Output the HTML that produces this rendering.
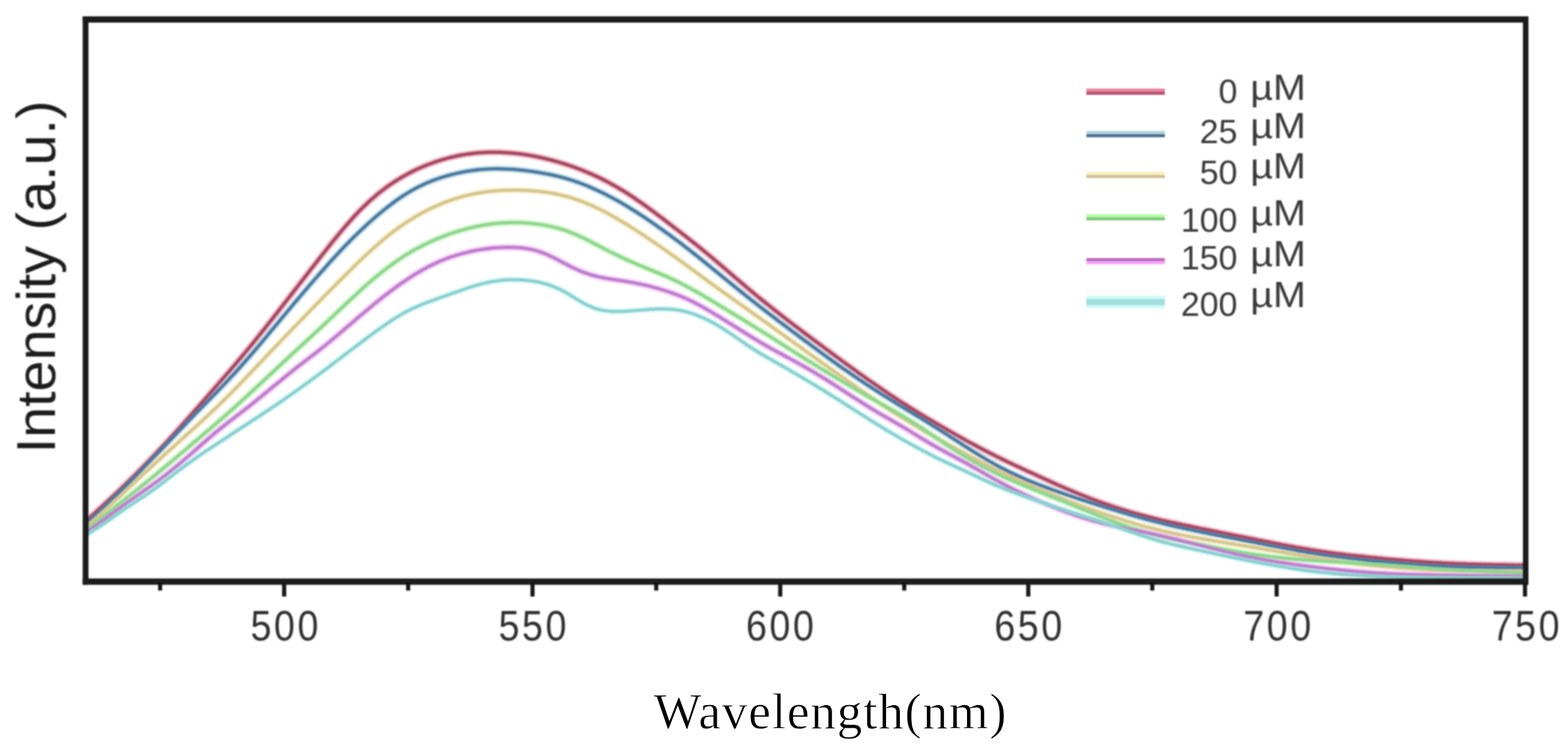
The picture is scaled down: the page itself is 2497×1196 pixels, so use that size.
<!DOCTYPE html>
<html><head><meta charset="utf-8">
<style>
html,body{margin:0;padding:0;background:#fff;}
body{width:2497px;height:1196px;overflow:hidden;}
svg{display:block;}
.tk{font-family:"Liberation Sans",sans-serif;font-size:68px;fill:#333;}
.lg{font-family:"Liberation Sans",sans-serif;font-size:54px;fill:#3a3a3a;}
.lg2{font-family:"Liberation Sans",sans-serif;font-size:57px;fill:#3a3a3a;}
.yl{font-family:"Liberation Sans",sans-serif;font-size:88px;fill:#1e1e1e;}
.xl{font-family:"Liberation Serif",serif;font-size:80.5px;fill:#000;stroke:#fff;stroke-width:0.9px;}
</style></head>
<body>
<svg width="2497" height="1196" viewBox="0 0 2497 1196">
<defs>
<filter id="bl" x="-5%" y="-5%" width="110%" height="110%"><feGaussianBlur stdDeviation="1.3"/></filter>
<filter id="bl2" x="-5%" y="-5%" width="110%" height="110%"><feGaussianBlur stdDeviation="0.9"/></filter>
<clipPath id="pc"><rect x="136" y="31" width="2294" height="896"/></clipPath>
</defs>
<rect width="2497" height="1196" fill="#fff"/>
<g fill="none" stroke-linejoin="round" stroke-linecap="round" clip-path="url(#pc)" filter="url(#bl)">
<path d="M136.0 830.4 L140.0 826.8 L144.0 823.2 L148.0 819.6 L152.0 816.0 L156.0 812.3 L160.0 808.7 L164.0 805.1 L168.0 801.4 L172.0 797.7 L176.0 794.0 L180.0 790.2 L184.0 786.5 L188.0 782.7 L192.0 778.9 L196.0 775.0 L200.0 771.1 L204.0 767.2 L208.0 763.3 L212.0 759.3 L216.0 755.4 L220.0 751.3 L224.0 747.3 L228.0 743.2 L232.0 739.1 L236.0 735.0 L240.0 730.9 L244.0 726.7 L248.0 722.5 L252.0 718.2 L256.0 714.0 L260.0 709.7 L264.0 705.4 L268.0 701.1 L272.0 696.7 L276.0 692.3 L280.0 687.9 L284.0 683.5 L288.0 679.1 L292.0 674.6 L296.0 670.1 L300.0 665.6 L304.0 661.1 L308.0 656.6 L312.0 652.0 L316.0 647.5 L320.0 642.9 L324.0 638.4 L328.0 633.8 L332.0 629.3 L336.0 624.7 L340.0 620.1 L344.0 615.6 L348.0 611.0 L352.0 606.4 L356.0 601.8 L360.0 597.2 L364.0 592.6 L368.0 587.9 L372.0 583.3 L376.0 578.6 L380.0 573.9 L384.0 569.1 L388.0 564.3 L392.0 559.5 L396.0 554.7 L400.0 549.8 L404.0 544.9 L408.0 540.0 L412.0 535.0 L416.0 530.0 L420.0 525.0 L424.0 520.0 L428.0 514.9 L432.0 509.8 L436.0 504.7 L440.0 499.6 L444.0 494.5 L448.0 489.4 L452.0 484.3 L456.0 479.1 L460.0 474.0 L464.0 468.8 L468.0 463.7 L472.0 458.6 L476.0 453.4 L480.0 448.3 L484.0 443.2 L488.0 438.0 L492.0 432.9 L496.0 427.7 L500.0 422.6 L504.0 417.5 L508.0 412.3 L512.0 407.2 L516.0 402.1 L520.0 397.1 L524.0 392.0 L528.0 387.0 L532.0 382.1 L536.0 377.2 L540.0 372.3 L544.0 367.5 L548.0 362.8 L552.0 358.2 L556.0 353.6 L560.0 349.1 L564.0 344.7 L568.0 340.4 L572.0 336.2 L576.0 332.2 L580.0 328.2 L584.0 324.4 L588.0 320.6 L592.0 317.0 L596.0 313.6 L600.0 310.2 L604.0 306.9 L608.0 303.8 L612.0 300.8 L616.0 297.8 L620.0 295.0 L624.0 292.2 L628.0 289.6 L632.0 287.0 L636.0 284.5 L640.0 282.2 L644.0 279.9 L648.0 277.6 L652.0 275.5 L656.0 273.5 L660.0 271.5 L664.0 269.6 L668.0 267.8 L672.0 266.0 L676.0 264.4 L680.0 262.7 L684.0 261.2 L688.0 259.7 L692.0 258.3 L696.0 256.9 L700.0 255.7 L704.0 254.4 L708.0 253.3 L712.0 252.1 L716.0 251.1 L720.0 250.1 L724.0 249.2 L728.0 248.3 L732.0 247.5 L736.0 246.7 L740.0 246.1 L744.0 245.4 L748.0 244.9 L752.0 244.4 L756.0 243.9 L760.0 243.6 L764.0 243.2 L768.0 243.0 L772.0 242.8 L776.0 242.6 L780.0 242.5 L784.0 242.5 L788.0 242.5 L792.0 242.5 L796.0 242.6 L800.0 242.7 L804.0 242.9 L808.0 243.2 L812.0 243.5 L816.0 243.8 L820.0 244.2 L824.0 244.6 L828.0 245.1 L832.0 245.6 L836.0 246.2 L840.0 246.8 L844.0 247.5 L848.0 248.2 L852.0 249.0 L856.0 249.8 L860.0 250.7 L864.0 251.5 L868.0 252.5 L872.0 253.5 L876.0 254.5 L880.0 255.5 L884.0 256.6 L888.0 257.7 L892.0 258.9 L896.0 260.1 L900.0 261.4 L904.0 262.7 L908.0 264.0 L912.0 265.4 L916.0 266.8 L920.0 268.3 L924.0 269.8 L928.0 271.4 L932.0 273.0 L936.0 274.7 L940.0 276.4 L944.0 278.1 L948.0 280.0 L952.0 281.8 L956.0 283.8 L960.0 285.8 L964.0 287.8 L968.0 289.9 L972.0 292.1 L976.0 294.3 L980.0 296.5 L984.0 298.9 L988.0 301.3 L992.0 303.7 L996.0 306.2 L1000.0 308.7 L1004.0 311.3 L1008.0 313.9 L1012.0 316.6 L1016.0 319.4 L1020.0 322.1 L1024.0 325.0 L1028.0 327.8 L1032.0 330.7 L1036.0 333.7 L1040.0 336.6 L1044.0 339.6 L1048.0 342.6 L1052.0 345.6 L1056.0 348.7 L1060.0 351.7 L1064.0 354.8 L1068.0 357.9 L1072.0 361.0 L1076.0 364.1 L1080.0 367.1 L1084.0 370.3 L1088.0 373.4 L1092.0 376.5 L1096.0 379.7 L1100.0 382.8 L1104.0 386.0 L1108.0 389.2 L1112.0 392.4 L1116.0 395.7 L1120.0 398.9 L1124.0 402.2 L1128.0 405.5 L1132.0 408.9 L1136.0 412.2 L1140.0 415.6 L1144.0 419.0 L1148.0 422.4 L1152.0 425.8 L1156.0 429.3 L1160.0 432.7 L1164.0 436.1 L1168.0 439.6 L1172.0 443.0 L1176.0 446.4 L1180.0 449.8 L1184.0 453.2 L1188.0 456.6 L1192.0 460.0 L1196.0 463.3 L1200.0 466.7 L1204.0 470.0 L1208.0 473.3 L1212.0 476.5 L1216.0 479.8 L1220.0 483.0 L1224.0 486.2 L1228.0 489.4 L1232.0 492.6 L1236.0 495.7 L1240.0 498.9 L1244.0 502.0 L1248.0 505.1 L1252.0 508.2 L1256.0 511.3 L1260.0 514.3 L1264.0 517.4 L1268.0 520.4 L1272.0 523.4 L1276.0 526.5 L1280.0 529.5 L1284.0 532.5 L1288.0 535.5 L1292.0 538.5 L1296.0 541.5 L1300.0 544.5 L1304.0 547.4 L1308.0 550.4 L1312.0 553.4 L1316.0 556.4 L1320.0 559.3 L1324.0 562.3 L1328.0 565.2 L1332.0 568.2 L1336.0 571.1 L1340.0 574.1 L1344.0 577.0 L1348.0 579.9 L1352.0 582.8 L1356.0 585.7 L1360.0 588.6 L1364.0 591.5 L1368.0 594.4 L1372.0 597.2 L1376.0 600.1 L1380.0 602.9 L1384.0 605.7 L1388.0 608.5 L1392.0 611.3 L1396.0 614.1 L1400.0 616.8 L1404.0 619.6 L1408.0 622.3 L1412.0 625.0 L1416.0 627.7 L1420.0 630.3 L1424.0 633.0 L1428.0 635.6 L1432.0 638.2 L1436.0 640.8 L1440.0 643.4 L1444.0 645.9 L1448.0 648.4 L1452.0 650.9 L1456.0 653.4 L1460.0 655.8 L1464.0 658.3 L1468.0 660.7 L1472.0 663.1 L1476.0 665.5 L1480.0 667.9 L1484.0 670.2 L1488.0 672.6 L1492.0 675.0 L1496.0 677.3 L1500.0 679.6 L1504.0 681.9 L1508.0 684.3 L1512.0 686.6 L1516.0 688.8 L1520.0 691.1 L1524.0 693.4 L1528.0 695.6 L1532.0 697.9 L1536.0 700.1 L1540.0 702.3 L1544.0 704.4 L1548.0 706.6 L1552.0 708.7 L1556.0 710.9 L1560.0 713.0 L1564.0 715.1 L1568.0 717.2 L1572.0 719.2 L1576.0 721.3 L1580.0 723.3 L1584.0 725.4 L1588.0 727.4 L1592.0 729.3 L1596.0 731.3 L1600.0 733.3 L1604.0 735.2 L1608.0 737.1 L1612.0 739.0 L1616.0 740.9 L1620.0 742.8 L1624.0 744.6 L1628.0 746.5 L1632.0 748.3 L1636.0 750.2 L1640.0 752.0 L1644.0 753.8 L1648.0 755.6 L1652.0 757.4 L1656.0 759.3 L1660.0 761.1 L1664.0 762.9 L1668.0 764.7 L1672.0 766.6 L1676.0 768.4 L1680.0 770.2 L1684.0 772.0 L1688.0 773.7 L1692.0 775.5 L1696.0 777.3 L1700.0 779.0 L1704.0 780.7 L1708.0 782.4 L1712.0 784.1 L1716.0 785.7 L1720.0 787.4 L1724.0 789.0 L1728.0 790.6 L1732.0 792.1 L1736.0 793.7 L1740.0 795.2 L1744.0 796.7 L1748.0 798.1 L1752.0 799.6 L1756.0 801.0 L1760.0 802.4 L1764.0 803.8 L1768.0 805.2 L1772.0 806.5 L1776.0 807.8 L1780.0 809.1 L1784.0 810.4 L1788.0 811.6 L1792.0 812.9 L1796.0 814.1 L1800.0 815.3 L1804.0 816.4 L1808.0 817.6 L1812.0 818.7 L1816.0 819.8 L1820.0 820.9 L1824.0 822.0 L1828.0 823.0 L1832.0 824.0 L1836.0 825.0 L1840.0 826.0 L1844.0 827.0 L1848.0 828.0 L1852.0 828.9 L1856.0 829.8 L1860.0 830.7 L1864.0 831.6 L1868.0 832.5 L1872.0 833.3 L1876.0 834.2 L1880.0 835.0 L1884.0 835.9 L1888.0 836.7 L1892.0 837.5 L1896.0 838.3 L1900.0 839.1 L1904.0 840.0 L1908.0 840.8 L1912.0 841.6 L1916.0 842.4 L1920.0 843.2 L1924.0 844.0 L1928.0 844.8 L1932.0 845.6 L1936.0 846.4 L1940.0 847.3 L1944.0 848.1 L1948.0 848.9 L1952.0 849.7 L1956.0 850.5 L1960.0 851.3 L1964.0 852.1 L1968.0 852.9 L1972.0 853.7 L1976.0 854.5 L1980.0 855.3 L1984.0 856.1 L1988.0 856.9 L1992.0 857.7 L1996.0 858.5 L2000.0 859.3 L2004.0 860.1 L2008.0 860.9 L2012.0 861.7 L2016.0 862.4 L2020.0 863.2 L2024.0 864.0 L2028.0 864.8 L2032.0 865.6 L2036.0 866.3 L2040.0 867.1 L2044.0 867.9 L2048.0 868.6 L2052.0 869.4 L2056.0 870.1 L2060.0 870.8 L2064.0 871.6 L2068.0 872.3 L2072.0 873.0 L2076.0 873.7 L2080.0 874.3 L2084.0 875.0 L2088.0 875.7 L2092.0 876.3 L2096.0 876.9 L2100.0 877.5 L2104.0 878.1 L2108.0 878.7 L2112.0 879.3 L2116.0 879.9 L2120.0 880.4 L2124.0 880.9 L2128.0 881.5 L2132.0 882.0 L2136.0 882.5 L2140.0 883.0 L2144.0 883.5 L2148.0 883.9 L2152.0 884.4 L2156.0 884.8 L2160.0 885.3 L2164.0 885.7 L2168.0 886.1 L2172.0 886.5 L2176.0 887.0 L2180.0 887.4 L2184.0 887.8 L2188.0 888.1 L2192.0 888.5 L2196.0 888.9 L2200.0 889.3 L2204.0 889.7 L2208.0 890.0 L2212.0 890.4 L2216.0 890.7 L2220.0 891.1 L2224.0 891.4 L2228.0 891.8 L2232.0 892.1 L2236.0 892.5 L2240.0 892.8 L2244.0 893.1 L2248.0 893.4 L2252.0 893.7 L2256.0 894.0 L2260.0 894.3 L2264.0 894.6 L2268.0 894.9 L2272.0 895.1 L2276.0 895.4 L2280.0 895.6 L2284.0 895.9 L2288.0 896.1 L2292.0 896.3 L2296.0 896.6 L2300.0 896.8 L2304.0 897.0 L2308.0 897.2 L2312.0 897.3 L2316.0 897.5 L2320.0 897.7 L2324.0 897.8 L2328.0 898.0 L2332.0 898.1 L2336.0 898.3 L2340.0 898.4 L2344.0 898.5 L2348.0 898.6 L2352.0 898.7 L2356.0 898.8 L2360.0 898.9 L2364.0 899.0 L2368.0 899.1 L2372.0 899.2 L2376.0 899.3 L2380.0 899.4 L2384.0 899.4 L2388.0 899.5 L2392.0 899.6 L2396.0 899.6 L2400.0 899.7 L2404.0 899.8 L2408.0 899.8 L2412.0 899.9 L2416.0 899.9 L2420.0 900.0 L2424.0 900.0 L2428.0 900.1 L2432.0 900.1" stroke="#e890a8" stroke-width="11" opacity="0.55"/>
<path d="M136.0 834.8 L140.0 831.1 L144.0 827.5 L148.0 823.8 L152.0 820.1 L156.0 816.4 L160.0 812.7 L164.0 808.9 L168.0 805.2 L172.0 801.4 L176.0 797.6 L180.0 793.8 L184.0 789.9 L188.0 786.1 L192.0 782.2 L196.0 778.2 L200.0 774.3 L204.0 770.3 L208.0 766.3 L212.0 762.3 L216.0 758.2 L220.0 754.1 L224.0 750.0 L228.0 745.9 L232.0 741.7 L236.0 737.5 L240.0 733.4 L244.0 729.2 L248.0 725.0 L252.0 720.8 L256.0 716.6 L260.0 712.4 L264.0 708.2 L268.0 704.0 L272.0 699.8 L276.0 695.6 L280.0 691.4 L284.0 687.2 L288.0 683.1 L292.0 678.9 L296.0 674.7 L300.0 670.6 L304.0 666.5 L308.0 662.3 L312.0 658.2 L316.0 654.1 L320.0 650.1 L324.0 646.0 L328.0 641.9 L332.0 637.9 L336.0 633.8 L340.0 629.7 L344.0 625.6 L348.0 621.5 L352.0 617.3 L356.0 613.2 L360.0 608.9 L364.0 604.7 L368.0 600.4 L372.0 596.1 L376.0 591.8 L380.0 587.4 L384.0 582.9 L388.0 578.4 L392.0 573.9 L396.0 569.3 L400.0 564.7 L404.0 560.1 L408.0 555.4 L412.0 550.7 L416.0 545.9 L420.0 541.2 L424.0 536.4 L428.0 531.6 L432.0 526.8 L436.0 522.0 L440.0 517.2 L444.0 512.4 L448.0 507.6 L452.0 502.8 L456.0 498.0 L460.0 493.2 L464.0 488.4 L468.0 483.6 L472.0 478.9 L476.0 474.2 L480.0 469.5 L484.0 464.8 L488.0 460.1 L492.0 455.5 L496.0 450.9 L500.0 446.3 L504.0 441.7 L508.0 437.1 L512.0 432.6 L516.0 428.1 L520.0 423.6 L524.0 419.1 L528.0 414.7 L532.0 410.3 L536.0 406.0 L540.0 401.7 L544.0 397.4 L548.0 393.2 L552.0 389.1 L556.0 385.0 L560.0 380.9 L564.0 377.0 L568.0 373.1 L572.0 369.2 L576.0 365.4 L580.0 361.7 L584.0 358.0 L588.0 354.3 L592.0 350.8 L596.0 347.3 L600.0 343.8 L604.0 340.4 L608.0 337.1 L612.0 333.8 L616.0 330.6 L620.0 327.5 L624.0 324.5 L628.0 321.5 L632.0 318.6 L636.0 315.8 L640.0 313.1 L644.0 310.5 L648.0 308.0 L652.0 305.5 L656.0 303.2 L660.0 301.0 L664.0 298.9 L668.0 296.8 L672.0 294.9 L676.0 293.0 L680.0 291.3 L684.0 289.6 L688.0 288.0 L692.0 286.5 L696.0 285.0 L700.0 283.7 L704.0 282.4 L708.0 281.1 L712.0 280.0 L716.0 278.9 L720.0 277.8 L724.0 276.8 L728.0 275.9 L732.0 275.0 L736.0 274.2 L740.0 273.4 L744.0 272.7 L748.0 272.1 L752.0 271.5 L756.0 271.0 L760.0 270.5 L764.0 270.1 L768.0 269.7 L772.0 269.4 L776.0 269.2 L780.0 269.0 L784.0 268.9 L788.0 268.8 L792.0 268.8 L796.0 268.8 L800.0 268.9 L804.0 269.0 L808.0 269.2 L812.0 269.4 L816.0 269.6 L820.0 269.9 L824.0 270.3 L828.0 270.7 L832.0 271.1 L836.0 271.5 L840.0 272.0 L844.0 272.6 L848.0 273.1 L852.0 273.7 L856.0 274.3 L860.0 275.0 L864.0 275.7 L868.0 276.4 L872.0 277.2 L876.0 278.0 L880.0 278.8 L884.0 279.7 L888.0 280.7 L892.0 281.7 L896.0 282.7 L900.0 283.8 L904.0 285.0 L908.0 286.2 L912.0 287.5 L916.0 288.8 L920.0 290.2 L924.0 291.7 L928.0 293.2 L932.0 294.8 L936.0 296.4 L940.0 298.1 L944.0 299.9 L948.0 301.7 L952.0 303.5 L956.0 305.4 L960.0 307.3 L964.0 309.3 L968.0 311.4 L972.0 313.5 L976.0 315.6 L980.0 317.8 L984.0 320.0 L988.0 322.2 L992.0 324.6 L996.0 326.9 L1000.0 329.3 L1004.0 331.8 L1008.0 334.3 L1012.0 336.8 L1016.0 339.4 L1020.0 342.0 L1024.0 344.6 L1028.0 347.3 L1032.0 350.0 L1036.0 352.8 L1040.0 355.6 L1044.0 358.3 L1048.0 361.2 L1052.0 364.0 L1056.0 366.8 L1060.0 369.7 L1064.0 372.6 L1068.0 375.5 L1072.0 378.4 L1076.0 381.4 L1080.0 384.4 L1084.0 387.4 L1088.0 390.5 L1092.0 393.6 L1096.0 396.7 L1100.0 399.8 L1104.0 403.0 L1108.0 406.1 L1112.0 409.3 L1116.0 412.5 L1120.0 415.8 L1124.0 419.0 L1128.0 422.2 L1132.0 425.5 L1136.0 428.8 L1140.0 432.0 L1144.0 435.3 L1148.0 438.6 L1152.0 441.8 L1156.0 445.1 L1160.0 448.3 L1164.0 451.6 L1168.0 454.9 L1172.0 458.1 L1176.0 461.3 L1180.0 464.5 L1184.0 467.7 L1188.0 470.9 L1192.0 474.1 L1196.0 477.3 L1200.0 480.4 L1204.0 483.6 L1208.0 486.7 L1212.0 489.8 L1216.0 492.9 L1220.0 496.0 L1224.0 499.1 L1228.0 502.1 L1232.0 505.2 L1236.0 508.2 L1240.0 511.3 L1244.0 514.3 L1248.0 517.3 L1252.0 520.3 L1256.0 523.3 L1260.0 526.3 L1264.0 529.3 L1268.0 532.3 L1272.0 535.3 L1276.0 538.2 L1280.0 541.2 L1284.0 544.2 L1288.0 547.1 L1292.0 550.1 L1296.0 553.1 L1300.0 556.0 L1304.0 559.0 L1308.0 561.9 L1312.0 564.9 L1316.0 567.8 L1320.0 570.7 L1324.0 573.6 L1328.0 576.5 L1332.0 579.3 L1336.0 582.2 L1340.0 585.0 L1344.0 587.8 L1348.0 590.6 L1352.0 593.3 L1356.0 596.1 L1360.0 598.8 L1364.0 601.5 L1368.0 604.2 L1372.0 606.9 L1376.0 609.5 L1380.0 612.2 L1384.0 614.8 L1388.0 617.4 L1392.0 620.0 L1396.0 622.6 L1400.0 625.1 L1404.0 627.7 L1408.0 630.2 L1412.0 632.7 L1416.0 635.2 L1420.0 637.7 L1424.0 640.2 L1428.0 642.6 L1432.0 645.1 L1436.0 647.5 L1440.0 650.0 L1444.0 652.4 L1448.0 654.8 L1452.0 657.2 L1456.0 659.6 L1460.0 662.1 L1464.0 664.5 L1468.0 666.9 L1472.0 669.4 L1476.0 671.8 L1480.0 674.3 L1484.0 676.8 L1488.0 679.3 L1492.0 681.8 L1496.0 684.3 L1500.0 686.8 L1504.0 689.4 L1508.0 692.0 L1512.0 694.6 L1516.0 697.2 L1520.0 699.8 L1524.0 702.4 L1528.0 705.0 L1532.0 707.6 L1536.0 710.2 L1540.0 712.8 L1544.0 715.4 L1548.0 717.9 L1552.0 720.4 L1556.0 722.9 L1560.0 725.4 L1564.0 727.8 L1568.0 730.2 L1572.0 732.6 L1576.0 734.9 L1580.0 737.2 L1584.0 739.4 L1588.0 741.6 L1592.0 743.7 L1596.0 745.8 L1600.0 747.8 L1604.0 749.8 L1608.0 751.8 L1612.0 753.7 L1616.0 755.6 L1620.0 757.4 L1624.0 759.2 L1628.0 761.0 L1632.0 762.7 L1636.0 764.5 L1640.0 766.1 L1644.0 767.8 L1648.0 769.4 L1652.0 771.0 L1656.0 772.6 L1660.0 774.1 L1664.0 775.6 L1668.0 777.1 L1672.0 778.6 L1676.0 780.1 L1680.0 781.5 L1684.0 782.9 L1688.0 784.4 L1692.0 785.7 L1696.0 787.1 L1700.0 788.5 L1704.0 789.8 L1708.0 791.1 L1712.0 792.5 L1716.0 793.8 L1720.0 795.1 L1724.0 796.4 L1728.0 797.7 L1732.0 798.9 L1736.0 800.2 L1740.0 801.5 L1744.0 802.7 L1748.0 804.0 L1752.0 805.2 L1756.0 806.5 L1760.0 807.7 L1764.0 809.0 L1768.0 810.2 L1772.0 811.4 L1776.0 812.6 L1780.0 813.8 L1784.0 815.0 L1788.0 816.2 L1792.0 817.4 L1796.0 818.6 L1800.0 819.8 L1804.0 820.9 L1808.0 822.1 L1812.0 823.2 L1816.0 824.3 L1820.0 825.4 L1824.0 826.5 L1828.0 827.6 L1832.0 828.6 L1836.0 829.7 L1840.0 830.7 L1844.0 831.7 L1848.0 832.7 L1852.0 833.7 L1856.0 834.7 L1860.0 835.6 L1864.0 836.6 L1868.0 837.5 L1872.0 838.4 L1876.0 839.3 L1880.0 840.1 L1884.0 841.0 L1888.0 841.9 L1892.0 842.7 L1896.0 843.6 L1900.0 844.4 L1904.0 845.2 L1908.0 846.1 L1912.0 846.9 L1916.0 847.7 L1920.0 848.5 L1924.0 849.3 L1928.0 850.2 L1932.0 851.0 L1936.0 851.8 L1940.0 852.6 L1944.0 853.4 L1948.0 854.2 L1952.0 855.0 L1956.0 855.7 L1960.0 856.5 L1964.0 857.3 L1968.0 858.1 L1972.0 858.9 L1976.0 859.7 L1980.0 860.5 L1984.0 861.2 L1988.0 862.0 L1992.0 862.8 L1996.0 863.6 L2000.0 864.4 L2004.0 865.2 L2008.0 865.9 L2012.0 866.7 L2016.0 867.5 L2020.0 868.3 L2024.0 869.1 L2028.0 869.8 L2032.0 870.6 L2036.0 871.4 L2040.0 872.1 L2044.0 872.9 L2048.0 873.6 L2052.0 874.4 L2056.0 875.1 L2060.0 875.8 L2064.0 876.5 L2068.0 877.3 L2072.0 878.0 L2076.0 878.6 L2080.0 879.3 L2084.0 880.0 L2088.0 880.6 L2092.0 881.3 L2096.0 881.9 L2100.0 882.5 L2104.0 883.1 L2108.0 883.7 L2112.0 884.3 L2116.0 884.9 L2120.0 885.4 L2124.0 885.9 L2128.0 886.5 L2132.0 887.0 L2136.0 887.5 L2140.0 888.0 L2144.0 888.4 L2148.0 888.9 L2152.0 889.4 L2156.0 889.8 L2160.0 890.3 L2164.0 890.7 L2168.0 891.1 L2172.0 891.6 L2176.0 892.0 L2180.0 892.4 L2184.0 892.8 L2188.0 893.2 L2192.0 893.5 L2196.0 893.9 L2200.0 894.3 L2204.0 894.7 L2208.0 895.1 L2212.0 895.4 L2216.0 895.8 L2220.0 896.1 L2224.0 896.5 L2228.0 896.8 L2232.0 897.2 L2236.0 897.5 L2240.0 897.8 L2244.0 898.1 L2248.0 898.4 L2252.0 898.8 L2256.0 899.0 L2260.0 899.3 L2264.0 899.6 L2268.0 899.9 L2272.0 900.1 L2276.0 900.4 L2280.0 900.6 L2284.0 900.9 L2288.0 901.1 L2292.0 901.3 L2296.0 901.5 L2300.0 901.7 L2304.0 901.9 L2308.0 902.1 L2312.0 902.3 L2316.0 902.4 L2320.0 902.6 L2324.0 902.7 L2328.0 902.8 L2332.0 902.9 L2336.0 903.1 L2340.0 903.2 L2344.0 903.3 L2348.0 903.3 L2352.0 903.4 L2356.0 903.5 L2360.0 903.6 L2364.0 903.6 L2368.0 903.7 L2372.0 903.7 L2376.0 903.8 L2380.0 903.8 L2384.0 903.9 L2388.0 903.9 L2392.0 903.9 L2396.0 904.0 L2400.0 904.0 L2404.0 904.0 L2408.0 904.1 L2412.0 904.1 L2416.0 904.1 L2420.0 904.1 L2424.0 904.1 L2428.0 904.1 L2432.0 904.2" stroke="#a8d0e0" stroke-width="11" opacity="0.55"/>
<path d="M136.0 840.2 L140.0 836.7 L144.0 833.1 L148.0 829.5 L152.0 825.9 L156.0 822.3 L160.0 818.7 L164.0 815.1 L168.0 811.4 L172.0 807.7 L176.0 804.1 L180.0 800.3 L184.0 796.6 L188.0 792.9 L192.0 789.2 L196.0 785.4 L200.0 781.6 L204.0 777.9 L208.0 774.1 L212.0 770.4 L216.0 766.6 L220.0 762.8 L224.0 759.1 L228.0 755.3 L232.0 751.6 L236.0 747.9 L240.0 744.2 L244.0 740.5 L248.0 736.9 L252.0 733.2 L256.0 729.6 L260.0 726.0 L264.0 722.4 L268.0 718.8 L272.0 715.2 L276.0 711.6 L280.0 708.0 L284.0 704.4 L288.0 700.8 L292.0 697.2 L296.0 693.6 L300.0 690.0 L304.0 686.4 L308.0 682.8 L312.0 679.2 L316.0 675.5 L320.0 671.9 L324.0 668.2 L328.0 664.5 L332.0 660.8 L336.0 657.0 L340.0 653.3 L344.0 649.5 L348.0 645.6 L352.0 641.8 L356.0 637.8 L360.0 633.9 L364.0 629.9 L368.0 625.9 L372.0 621.9 L376.0 617.8 L380.0 613.6 L384.0 609.5 L388.0 605.3 L392.0 601.1 L396.0 596.9 L400.0 592.7 L404.0 588.5 L408.0 584.3 L412.0 580.1 L416.0 575.8 L420.0 571.6 L424.0 567.4 L428.0 563.2 L432.0 559.0 L436.0 554.8 L440.0 550.6 L444.0 546.4 L448.0 542.2 L452.0 538.1 L456.0 533.9 L460.0 529.8 L464.0 525.6 L468.0 521.5 L472.0 517.3 L476.0 513.2 L480.0 509.1 L484.0 505.0 L488.0 500.8 L492.0 496.7 L496.0 492.6 L500.0 488.5 L504.0 484.4 L508.0 480.3 L512.0 476.3 L516.0 472.2 L520.0 468.1 L524.0 464.1 L528.0 460.1 L532.0 456.0 L536.0 452.0 L540.0 448.0 L544.0 444.0 L548.0 440.0 L552.0 436.0 L556.0 432.1 L560.0 428.1 L564.0 424.2 L568.0 420.3 L572.0 416.4 L576.0 412.6 L580.0 408.8 L584.0 405.1 L588.0 401.4 L592.0 397.7 L596.0 394.1 L600.0 390.5 L604.0 387.1 L608.0 383.6 L612.0 380.3 L616.0 377.0 L620.0 373.8 L624.0 370.7 L628.0 367.6 L632.0 364.7 L636.0 361.8 L640.0 359.0 L644.0 356.2 L648.0 353.6 L652.0 351.0 L656.0 348.5 L660.0 346.1 L664.0 343.7 L668.0 341.4 L672.0 339.2 L676.0 337.1 L680.0 335.0 L684.0 333.0 L688.0 331.1 L692.0 329.2 L696.0 327.4 L700.0 325.7 L704.0 324.0 L708.0 322.4 L712.0 320.9 L716.0 319.5 L720.0 318.1 L724.0 316.7 L728.0 315.5 L732.0 314.3 L736.0 313.1 L740.0 312.1 L744.0 311.1 L748.0 310.1 L752.0 309.3 L756.0 308.4 L760.0 307.7 L764.0 307.0 L768.0 306.4 L772.0 305.8 L776.0 305.3 L780.0 304.8 L784.0 304.4 L788.0 304.1 L792.0 303.7 L796.0 303.5 L800.0 303.3 L804.0 303.1 L808.0 303.0 L812.0 302.9 L816.0 302.8 L820.0 302.8 L824.0 302.8 L828.0 302.9 L832.0 303.0 L836.0 303.2 L840.0 303.4 L844.0 303.6 L848.0 303.9 L852.0 304.2 L856.0 304.6 L860.0 305.0 L864.0 305.5 L868.0 306.0 L872.0 306.6 L876.0 307.2 L880.0 307.9 L884.0 308.7 L888.0 309.5 L892.0 310.4 L896.0 311.3 L900.0 312.3 L904.0 313.4 L908.0 314.5 L912.0 315.8 L916.0 317.0 L920.0 318.4 L924.0 319.8 L928.0 321.4 L932.0 322.9 L936.0 324.6 L940.0 326.3 L944.0 328.1 L948.0 329.9 L952.0 331.8 L956.0 333.7 L960.0 335.8 L964.0 337.8 L968.0 340.0 L972.0 342.2 L976.0 344.4 L980.0 346.7 L984.0 349.0 L988.0 351.4 L992.0 353.8 L996.0 356.2 L1000.0 358.7 L1004.0 361.2 L1008.0 363.8 L1012.0 366.3 L1016.0 368.9 L1020.0 371.5 L1024.0 374.2 L1028.0 376.8 L1032.0 379.5 L1036.0 382.2 L1040.0 384.9 L1044.0 387.6 L1048.0 390.4 L1052.0 393.1 L1056.0 395.9 L1060.0 398.7 L1064.0 401.5 L1068.0 404.4 L1072.0 407.2 L1076.0 410.1 L1080.0 413.0 L1084.0 415.9 L1088.0 418.8 L1092.0 421.7 L1096.0 424.6 L1100.0 427.5 L1104.0 430.5 L1108.0 433.4 L1112.0 436.3 L1116.0 439.3 L1120.0 442.2 L1124.0 445.1 L1128.0 448.1 L1132.0 451.0 L1136.0 453.9 L1140.0 456.8 L1144.0 459.7 L1148.0 462.5 L1152.0 465.4 L1156.0 468.3 L1160.0 471.1 L1164.0 474.0 L1168.0 476.8 L1172.0 479.7 L1176.0 482.5 L1180.0 485.3 L1184.0 488.2 L1188.0 491.0 L1192.0 493.8 L1196.0 496.7 L1200.0 499.5 L1204.0 502.4 L1208.0 505.2 L1212.0 508.1 L1216.0 510.9 L1220.0 513.8 L1224.0 516.6 L1228.0 519.5 L1232.0 522.4 L1236.0 525.3 L1240.0 528.1 L1244.0 531.0 L1248.0 533.9 L1252.0 536.8 L1256.0 539.7 L1260.0 542.6 L1264.0 545.5 L1268.0 548.3 L1272.0 551.2 L1276.0 554.1 L1280.0 556.9 L1284.0 559.8 L1288.0 562.7 L1292.0 565.5 L1296.0 568.4 L1300.0 571.2 L1304.0 574.0 L1308.0 576.9 L1312.0 579.7 L1316.0 582.5 L1320.0 585.4 L1324.0 588.2 L1328.0 591.1 L1332.0 593.9 L1336.0 596.8 L1340.0 599.6 L1344.0 602.5 L1348.0 605.3 L1352.0 608.2 L1356.0 611.0 L1360.0 613.8 L1364.0 616.6 L1368.0 619.4 L1372.0 622.2 L1376.0 625.0 L1380.0 627.8 L1384.0 630.6 L1388.0 633.3 L1392.0 636.0 L1396.0 638.7 L1400.0 641.4 L1404.0 644.1 L1408.0 646.7 L1412.0 649.3 L1416.0 651.9 L1420.0 654.5 L1424.0 657.0 L1428.0 659.6 L1432.0 662.1 L1436.0 664.6 L1440.0 667.0 L1444.0 669.5 L1448.0 671.9 L1452.0 674.4 L1456.0 676.8 L1460.0 679.2 L1464.0 681.5 L1468.0 683.9 L1472.0 686.3 L1476.0 688.6 L1480.0 690.9 L1484.0 693.2 L1488.0 695.5 L1492.0 697.8 L1496.0 700.0 L1500.0 702.3 L1504.0 704.5 L1508.0 706.7 L1512.0 709.0 L1516.0 711.2 L1520.0 713.3 L1524.0 715.5 L1528.0 717.7 L1532.0 719.9 L1536.0 722.0 L1540.0 724.2 L1544.0 726.3 L1548.0 728.4 L1552.0 730.5 L1556.0 732.6 L1560.0 734.7 L1564.0 736.8 L1568.0 738.8 L1572.0 740.8 L1576.0 742.8 L1580.0 744.8 L1584.0 746.8 L1588.0 748.7 L1592.0 750.6 L1596.0 752.5 L1600.0 754.4 L1604.0 756.3 L1608.0 758.1 L1612.0 760.0 L1616.0 761.8 L1620.0 763.6 L1624.0 765.4 L1628.0 767.2 L1632.0 769.0 L1636.0 770.8 L1640.0 772.5 L1644.0 774.3 L1648.0 776.0 L1652.0 777.8 L1656.0 779.5 L1660.0 781.2 L1664.0 782.9 L1668.0 784.6 L1672.0 786.2 L1676.0 787.9 L1680.0 789.5 L1684.0 791.1 L1688.0 792.8 L1692.0 794.3 L1696.0 795.9 L1700.0 797.5 L1704.0 799.0 L1708.0 800.5 L1712.0 802.1 L1716.0 803.5 L1720.0 805.0 L1724.0 806.5 L1728.0 807.9 L1732.0 809.3 L1736.0 810.8 L1740.0 812.2 L1744.0 813.5 L1748.0 814.9 L1752.0 816.3 L1756.0 817.6 L1760.0 819.0 L1764.0 820.3 L1768.0 821.6 L1772.0 823.0 L1776.0 824.2 L1780.0 825.5 L1784.0 826.8 L1788.0 828.0 L1792.0 829.3 L1796.0 830.5 L1800.0 831.7 L1804.0 832.9 L1808.0 834.1 L1812.0 835.2 L1816.0 836.4 L1820.0 837.5 L1824.0 838.6 L1828.0 839.6 L1832.0 840.7 L1836.0 841.7 L1840.0 842.7 L1844.0 843.7 L1848.0 844.7 L1852.0 845.6 L1856.0 846.5 L1860.0 847.4 L1864.0 848.3 L1868.0 849.1 L1872.0 850.0 L1876.0 850.8 L1880.0 851.6 L1884.0 852.4 L1888.0 853.1 L1892.0 853.9 L1896.0 854.7 L1900.0 855.4 L1904.0 856.1 L1908.0 856.9 L1912.0 857.6 L1916.0 858.3 L1920.0 859.0 L1924.0 859.7 L1928.0 860.4 L1932.0 861.1 L1936.0 861.7 L1940.0 862.4 L1944.0 863.1 L1948.0 863.8 L1952.0 864.4 L1956.0 865.1 L1960.0 865.8 L1964.0 866.4 L1968.0 867.1 L1972.0 867.7 L1976.0 868.4 L1980.0 869.1 L1984.0 869.7 L1988.0 870.4 L1992.0 871.0 L1996.0 871.7 L2000.0 872.4 L2004.0 873.0 L2008.0 873.7 L2012.0 874.4 L2016.0 875.1 L2020.0 875.7 L2024.0 876.4 L2028.0 877.1 L2032.0 877.8 L2036.0 878.4 L2040.0 879.1 L2044.0 879.8 L2048.0 880.5 L2052.0 881.1 L2056.0 881.8 L2060.0 882.5 L2064.0 883.1 L2068.0 883.8 L2072.0 884.5 L2076.0 885.1 L2080.0 885.8 L2084.0 886.4 L2088.0 887.1 L2092.0 887.7 L2096.0 888.3 L2100.0 888.9 L2104.0 889.6 L2108.0 890.2 L2112.0 890.8 L2116.0 891.4 L2120.0 892.0 L2124.0 892.5 L2128.0 893.1 L2132.0 893.7 L2136.0 894.2 L2140.0 894.8 L2144.0 895.3 L2148.0 895.8 L2152.0 896.4 L2156.0 896.9 L2160.0 897.4 L2164.0 897.9 L2168.0 898.3 L2172.0 898.8 L2176.0 899.3 L2180.0 899.7 L2184.0 900.2 L2188.0 900.6 L2192.0 901.0 L2196.0 901.4 L2200.0 901.8 L2204.0 902.2 L2208.0 902.5 L2212.0 902.9 L2216.0 903.2 L2220.0 903.5 L2224.0 903.9 L2228.0 904.2 L2232.0 904.5 L2236.0 904.7 L2240.0 905.0 L2244.0 905.3 L2248.0 905.5 L2252.0 905.8 L2256.0 906.0 L2260.0 906.2 L2264.0 906.4 L2268.0 906.7 L2272.0 906.9 L2276.0 907.0 L2280.0 907.2 L2284.0 907.4 L2288.0 907.6 L2292.0 907.7 L2296.0 907.9 L2300.0 908.0 L2304.0 908.1 L2308.0 908.3 L2312.0 908.4 L2316.0 908.5 L2320.0 908.6 L2324.0 908.7 L2328.0 908.8 L2332.0 908.9 L2336.0 909.0 L2340.0 909.1 L2344.0 909.2 L2348.0 909.2 L2352.0 909.3 L2356.0 909.4 L2360.0 909.4 L2364.0 909.5 L2368.0 909.5 L2372.0 909.6 L2376.0 909.6 L2380.0 909.7 L2384.0 909.7 L2388.0 909.8 L2392.0 909.8 L2396.0 909.8 L2400.0 909.9 L2404.0 909.9 L2408.0 909.9 L2412.0 910.0 L2416.0 910.0 L2420.0 910.0 L2424.0 910.0 L2428.0 910.1 L2432.0 910.1" stroke="#fbeec0" stroke-width="11" opacity="0.55"/>
<path d="M136.0 844.4 L140.0 841.4 L144.0 838.3 L148.0 835.2 L152.0 832.1 L156.0 829.0 L160.0 825.9 L164.0 822.7 L168.0 819.6 L172.0 816.4 L176.0 813.3 L180.0 810.2 L184.0 807.0 L188.0 803.9 L192.0 800.7 L196.0 797.6 L200.0 794.5 L204.0 791.3 L208.0 788.1 L212.0 785.0 L216.0 781.8 L220.0 778.6 L224.0 775.4 L228.0 772.2 L232.0 768.9 L236.0 765.7 L240.0 762.4 L244.0 759.2 L248.0 755.9 L252.0 752.6 L256.0 749.2 L260.0 745.9 L264.0 742.6 L268.0 739.2 L272.0 735.8 L276.0 732.5 L280.0 729.1 L284.0 725.7 L288.0 722.3 L292.0 718.9 L296.0 715.5 L300.0 712.1 L304.0 708.7 L308.0 705.3 L312.0 701.9 L316.0 698.5 L320.0 695.1 L324.0 691.7 L328.0 688.4 L332.0 685.0 L336.0 681.5 L340.0 678.1 L344.0 674.7 L348.0 671.2 L352.0 667.8 L356.0 664.3 L360.0 660.8 L364.0 657.3 L368.0 653.7 L372.0 650.1 L376.0 646.5 L380.0 642.9 L384.0 639.3 L388.0 635.6 L392.0 632.0 L396.0 628.3 L400.0 624.6 L404.0 620.8 L408.0 617.1 L412.0 613.4 L416.0 609.6 L420.0 605.9 L424.0 602.2 L428.0 598.4 L432.0 594.7 L436.0 591.0 L440.0 587.2 L444.0 583.5 L448.0 579.8 L452.0 576.1 L456.0 572.4 L460.0 568.7 L464.0 565.0 L468.0 561.3 L472.0 557.6 L476.0 554.0 L480.0 550.3 L484.0 546.6 L488.0 542.9 L492.0 539.2 L496.0 535.5 L500.0 531.9 L504.0 528.2 L508.0 524.5 L512.0 520.7 L516.0 517.0 L520.0 513.3 L524.0 509.5 L528.0 505.7 L532.0 501.9 L536.0 498.1 L540.0 494.3 L544.0 490.5 L548.0 486.7 L552.0 482.9 L556.0 479.2 L560.0 475.4 L564.0 471.7 L568.0 468.0 L572.0 464.3 L576.0 460.6 L580.0 457.0 L584.0 453.5 L588.0 450.0 L592.0 446.6 L596.0 443.2 L600.0 439.9 L604.0 436.6 L608.0 433.4 L612.0 430.3 L616.0 427.2 L620.0 424.2 L624.0 421.2 L628.0 418.3 L632.0 415.5 L636.0 412.8 L640.0 410.1 L644.0 407.5 L648.0 405.0 L652.0 402.6 L656.0 400.2 L660.0 397.9 L664.0 395.7 L668.0 393.6 L672.0 391.5 L676.0 389.5 L680.0 387.6 L684.0 385.7 L688.0 383.9 L692.0 382.1 L696.0 380.4 L700.0 378.8 L704.0 377.2 L708.0 375.6 L712.0 374.2 L716.0 372.7 L720.0 371.3 L724.0 370.0 L728.0 368.7 L732.0 367.5 L736.0 366.3 L740.0 365.2 L744.0 364.1 L748.0 363.1 L752.0 362.2 L756.0 361.3 L760.0 360.4 L764.0 359.7 L768.0 358.9 L772.0 358.3 L776.0 357.6 L780.0 357.1 L784.0 356.6 L788.0 356.1 L792.0 355.7 L796.0 355.4 L800.0 355.1 L804.0 354.8 L808.0 354.7 L812.0 354.5 L816.0 354.5 L820.0 354.4 L824.0 354.5 L828.0 354.6 L832.0 354.7 L836.0 355.0 L840.0 355.2 L844.0 355.6 L848.0 355.9 L852.0 356.4 L856.0 356.9 L860.0 357.5 L864.0 358.1 L868.0 358.8 L872.0 359.6 L876.0 360.4 L880.0 361.3 L884.0 362.3 L888.0 363.3 L892.0 364.5 L896.0 365.7 L900.0 367.0 L904.0 368.4 L908.0 369.9 L912.0 371.4 L916.0 373.1 L920.0 374.8 L924.0 376.7 L928.0 378.6 L932.0 380.5 L936.0 382.5 L940.0 384.5 L944.0 386.6 L948.0 388.7 L952.0 390.8 L956.0 392.9 L960.0 395.0 L964.0 397.0 L968.0 399.1 L972.0 401.1 L976.0 403.1 L980.0 405.1 L984.0 407.0 L988.0 408.9 L992.0 410.8 L996.0 412.7 L1000.0 414.5 L1004.0 416.3 L1008.0 418.0 L1012.0 419.8 L1016.0 421.5 L1020.0 423.2 L1024.0 424.8 L1028.0 426.5 L1032.0 428.1 L1036.0 429.8 L1040.0 431.4 L1044.0 433.1 L1048.0 434.7 L1052.0 436.4 L1056.0 438.1 L1060.0 439.8 L1064.0 441.6 L1068.0 443.4 L1072.0 445.3 L1076.0 447.2 L1080.0 449.1 L1084.0 451.1 L1088.0 453.1 L1092.0 455.2 L1096.0 457.4 L1100.0 459.5 L1104.0 461.8 L1108.0 464.0 L1112.0 466.3 L1116.0 468.6 L1120.0 471.0 L1124.0 473.3 L1128.0 475.7 L1132.0 478.1 L1136.0 480.5 L1140.0 482.9 L1144.0 485.4 L1148.0 487.8 L1152.0 490.2 L1156.0 492.6 L1160.0 495.0 L1164.0 497.5 L1168.0 499.9 L1172.0 502.3 L1176.0 504.8 L1180.0 507.2 L1184.0 509.7 L1188.0 512.1 L1192.0 514.6 L1196.0 517.1 L1200.0 519.5 L1204.0 522.0 L1208.0 524.5 L1212.0 527.0 L1216.0 529.5 L1220.0 532.0 L1224.0 534.5 L1228.0 537.0 L1232.0 539.6 L1236.0 542.1 L1240.0 544.7 L1244.0 547.3 L1248.0 549.8 L1252.0 552.4 L1256.0 555.0 L1260.0 557.5 L1264.0 560.1 L1268.0 562.6 L1272.0 565.2 L1276.0 567.7 L1280.0 570.2 L1284.0 572.7 L1288.0 575.2 L1292.0 577.7 L1296.0 580.1 L1300.0 582.5 L1304.0 585.0 L1308.0 587.4 L1312.0 589.8 L1316.0 592.2 L1320.0 594.6 L1324.0 597.0 L1328.0 599.4 L1332.0 601.8 L1336.0 604.1 L1340.0 606.5 L1344.0 608.9 L1348.0 611.3 L1352.0 613.6 L1356.0 616.0 L1360.0 618.3 L1364.0 620.7 L1368.0 623.0 L1372.0 625.3 L1376.0 627.7 L1380.0 630.0 L1384.0 632.3 L1388.0 634.6 L1392.0 636.8 L1396.0 639.1 L1400.0 641.4 L1404.0 643.6 L1408.0 645.9 L1412.0 648.1 L1416.0 650.4 L1420.0 652.6 L1424.0 654.9 L1428.0 657.2 L1432.0 659.5 L1436.0 661.9 L1440.0 664.2 L1444.0 666.6 L1448.0 669.1 L1452.0 671.6 L1456.0 674.1 L1460.0 676.7 L1464.0 679.3 L1468.0 682.0 L1472.0 684.6 L1476.0 687.3 L1480.0 690.0 L1484.0 692.7 L1488.0 695.4 L1492.0 698.1 L1496.0 700.8 L1500.0 703.5 L1504.0 706.1 L1508.0 708.7 L1512.0 711.3 L1516.0 713.9 L1520.0 716.4 L1524.0 719.0 L1528.0 721.4 L1532.0 723.9 L1536.0 726.3 L1540.0 728.7 L1544.0 731.1 L1548.0 733.4 L1552.0 735.6 L1556.0 737.9 L1560.0 740.1 L1564.0 742.2 L1568.0 744.3 L1572.0 746.4 L1576.0 748.4 L1580.0 750.4 L1584.0 752.4 L1588.0 754.3 L1592.0 756.2 L1596.0 758.1 L1600.0 759.9 L1604.0 761.7 L1608.0 763.5 L1612.0 765.3 L1616.0 767.0 L1620.0 768.7 L1624.0 770.4 L1628.0 772.1 L1632.0 773.8 L1636.0 775.4 L1640.0 777.1 L1644.0 778.7 L1648.0 780.3 L1652.0 781.9 L1656.0 783.5 L1660.0 785.1 L1664.0 786.7 L1668.0 788.3 L1672.0 789.9 L1676.0 791.5 L1680.0 793.1 L1684.0 794.6 L1688.0 796.2 L1692.0 797.8 L1696.0 799.4 L1700.0 801.1 L1704.0 802.7 L1708.0 804.3 L1712.0 806.0 L1716.0 807.6 L1720.0 809.3 L1724.0 810.9 L1728.0 812.6 L1732.0 814.2 L1736.0 815.9 L1740.0 817.5 L1744.0 819.1 L1748.0 820.7 L1752.0 822.3 L1756.0 823.9 L1760.0 825.5 L1764.0 827.0 L1768.0 828.6 L1772.0 830.1 L1776.0 831.6 L1780.0 833.1 L1784.0 834.5 L1788.0 836.0 L1792.0 837.4 L1796.0 838.8 L1800.0 840.1 L1804.0 841.5 L1808.0 842.8 L1812.0 844.1 L1816.0 845.3 L1820.0 846.5 L1824.0 847.7 L1828.0 848.9 L1832.0 850.1 L1836.0 851.2 L1840.0 852.2 L1844.0 853.3 L1848.0 854.3 L1852.0 855.3 L1856.0 856.2 L1860.0 857.1 L1864.0 858.0 L1868.0 858.9 L1872.0 859.7 L1876.0 860.5 L1880.0 861.3 L1884.0 862.1 L1888.0 862.9 L1892.0 863.7 L1896.0 864.5 L1900.0 865.3 L1904.0 866.1 L1908.0 866.8 L1912.0 867.6 L1916.0 868.4 L1920.0 869.2 L1924.0 870.0 L1928.0 870.8 L1932.0 871.6 L1936.0 872.4 L1940.0 873.1 L1944.0 873.9 L1948.0 874.7 L1952.0 875.4 L1956.0 876.2 L1960.0 876.9 L1964.0 877.6 L1968.0 878.3 L1972.0 879.0 L1976.0 879.7 L1980.0 880.4 L1984.0 881.0 L1988.0 881.7 L1992.0 882.3 L1996.0 882.9 L2000.0 883.5 L2004.0 884.1 L2008.0 884.6 L2012.0 885.1 L2016.0 885.6 L2020.0 886.1 L2024.0 886.6 L2028.0 887.0 L2032.0 887.5 L2036.0 887.9 L2040.0 888.3 L2044.0 888.7 L2048.0 889.1 L2052.0 889.4 L2056.0 889.8 L2060.0 890.1 L2064.0 890.5 L2068.0 890.8 L2072.0 891.1 L2076.0 891.4 L2080.0 891.7 L2084.0 892.0 L2088.0 892.3 L2092.0 892.5 L2096.0 892.8 L2100.0 893.1 L2104.0 893.3 L2108.0 893.6 L2112.0 893.8 L2116.0 894.1 L2120.0 894.3 L2124.0 894.6 L2128.0 894.8 L2132.0 895.1 L2136.0 895.3 L2140.0 895.5 L2144.0 895.8 L2148.0 896.0 L2152.0 896.2 L2156.0 896.5 L2160.0 896.7 L2164.0 897.0 L2168.0 897.2 L2172.0 897.5 L2176.0 897.7 L2180.0 898.0 L2184.0 898.2 L2188.0 898.5 L2192.0 898.7 L2196.0 899.0 L2200.0 899.3 L2204.0 899.6 L2208.0 899.9 L2212.0 900.2 L2216.0 900.4 L2220.0 900.7 L2224.0 901.1 L2228.0 901.4 L2232.0 901.7 L2236.0 902.0 L2240.0 902.3 L2244.0 902.6 L2248.0 902.9 L2252.0 903.2 L2256.0 903.5 L2260.0 903.9 L2264.0 904.2 L2268.0 904.5 L2272.0 904.8 L2276.0 905.1 L2280.0 905.4 L2284.0 905.7 L2288.0 905.9 L2292.0 906.2 L2296.0 906.5 L2300.0 906.8 L2304.0 907.0 L2308.0 907.3 L2312.0 907.5 L2316.0 907.8 L2320.0 908.0 L2324.0 908.3 L2328.0 908.5 L2332.0 908.7 L2336.0 908.9 L2340.0 909.1 L2344.0 909.3 L2348.0 909.5 L2352.0 909.7 L2356.0 909.9 L2360.0 910.1 L2364.0 910.3 L2368.0 910.5 L2372.0 910.7 L2376.0 910.8 L2380.0 911.0 L2384.0 911.2 L2388.0 911.3 L2392.0 911.5 L2396.0 911.7 L2400.0 911.8 L2404.0 912.0 L2408.0 912.1 L2412.0 912.3 L2416.0 912.5 L2420.0 912.6 L2424.0 912.8 L2428.0 912.9 L2432.0 913.1" stroke="#c0f8b4" stroke-width="11" opacity="0.55"/>
<path d="M136.0 848.4 L140.0 845.6 L144.0 842.8 L148.0 840.0 L152.0 837.2 L156.0 834.3 L160.0 831.4 L164.0 828.4 L168.0 825.5 L172.0 822.5 L176.0 819.6 L180.0 816.6 L184.0 813.7 L188.0 810.8 L192.0 807.9 L196.0 805.0 L200.0 802.2 L204.0 799.3 L208.0 796.5 L212.0 793.7 L216.0 790.9 L220.0 788.2 L224.0 785.4 L228.0 782.6 L232.0 779.8 L236.0 777.0 L240.0 774.2 L244.0 771.3 L248.0 768.4 L252.0 765.5 L256.0 762.5 L260.0 759.4 L264.0 756.3 L268.0 753.2 L272.0 750.0 L276.0 746.8 L280.0 743.5 L284.0 740.2 L288.0 736.8 L292.0 733.4 L296.0 730.0 L300.0 726.5 L304.0 723.0 L308.0 719.5 L312.0 716.0 L316.0 712.4 L320.0 708.9 L324.0 705.4 L328.0 701.9 L332.0 698.4 L336.0 695.0 L340.0 691.6 L344.0 688.2 L348.0 685.0 L352.0 681.7 L356.0 678.5 L360.0 675.3 L364.0 672.2 L368.0 669.1 L372.0 666.0 L376.0 663.0 L380.0 659.9 L384.0 656.9 L388.0 653.8 L392.0 650.7 L396.0 647.6 L400.0 644.4 L404.0 641.2 L408.0 637.9 L412.0 634.6 L416.0 631.4 L420.0 628.1 L424.0 624.8 L428.0 621.5 L432.0 618.2 L436.0 614.9 L440.0 611.6 L444.0 608.3 L448.0 605.1 L452.0 601.8 L456.0 598.6 L460.0 595.3 L464.0 592.1 L468.0 588.9 L472.0 585.7 L476.0 582.6 L480.0 579.5 L484.0 576.4 L488.0 573.3 L492.0 570.3 L496.0 567.2 L500.0 564.2 L504.0 561.1 L508.0 558.0 L512.0 554.8 L516.0 551.6 L520.0 548.3 L524.0 545.0 L528.0 541.7 L532.0 538.4 L536.0 535.0 L540.0 531.6 L544.0 528.2 L548.0 524.8 L552.0 521.3 L556.0 517.9 L560.0 514.5 L564.0 511.1 L568.0 507.6 L572.0 504.2 L576.0 500.8 L580.0 497.5 L584.0 494.1 L588.0 490.8 L592.0 487.4 L596.0 484.2 L600.0 480.9 L604.0 477.7 L608.0 474.5 L612.0 471.4 L616.0 468.3 L620.0 465.2 L624.0 462.2 L628.0 459.3 L632.0 456.3 L636.0 453.5 L640.0 450.6 L644.0 447.9 L648.0 445.2 L652.0 442.5 L656.0 440.0 L660.0 437.4 L664.0 435.0 L668.0 432.6 L672.0 430.3 L676.0 428.1 L680.0 425.9 L684.0 423.8 L688.0 421.8 L692.0 419.9 L696.0 418.0 L700.0 416.2 L704.0 414.6 L708.0 413.0 L712.0 411.4 L716.0 410.0 L720.0 408.6 L724.0 407.3 L728.0 406.1 L732.0 404.9 L736.0 403.8 L740.0 402.8 L744.0 401.8 L748.0 400.8 L752.0 400.0 L756.0 399.2 L760.0 398.4 L764.0 397.7 L768.0 397.1 L772.0 396.5 L776.0 396.0 L780.0 395.5 L784.0 395.1 L788.0 394.7 L792.0 394.4 L796.0 394.2 L800.0 394.0 L804.0 393.9 L808.0 393.8 L812.0 393.9 L816.0 393.9 L820.0 394.1 L824.0 394.3 L828.0 394.6 L832.0 395.0 L836.0 395.5 L840.0 396.1 L844.0 396.9 L848.0 397.7 L852.0 398.7 L856.0 399.8 L860.0 401.1 L864.0 402.6 L868.0 404.1 L872.0 405.8 L876.0 407.7 L880.0 409.6 L884.0 411.6 L888.0 413.6 L892.0 415.7 L896.0 417.8 L900.0 419.9 L904.0 422.0 L908.0 424.1 L912.0 426.1 L916.0 428.0 L920.0 429.8 L924.0 431.6 L928.0 433.2 L932.0 434.7 L936.0 436.0 L940.0 437.3 L944.0 438.5 L948.0 439.5 L952.0 440.5 L956.0 441.4 L960.0 442.2 L964.0 442.9 L968.0 443.6 L972.0 444.3 L976.0 444.9 L980.0 445.5 L984.0 446.2 L988.0 446.8 L992.0 447.4 L996.0 448.0 L1000.0 448.7 L1004.0 449.4 L1008.0 450.1 L1012.0 450.9 L1016.0 451.7 L1020.0 452.5 L1024.0 453.4 L1028.0 454.3 L1032.0 455.2 L1036.0 456.2 L1040.0 457.3 L1044.0 458.4 L1048.0 459.5 L1052.0 460.7 L1056.0 461.9 L1060.0 463.1 L1064.0 464.5 L1068.0 465.8 L1072.0 467.2 L1076.0 468.7 L1080.0 470.2 L1084.0 471.8 L1088.0 473.5 L1092.0 475.2 L1096.0 477.1 L1100.0 479.0 L1104.0 480.9 L1108.0 483.0 L1112.0 485.1 L1116.0 487.3 L1120.0 489.5 L1124.0 491.8 L1128.0 494.1 L1132.0 496.5 L1136.0 498.9 L1140.0 501.3 L1144.0 503.7 L1148.0 506.2 L1152.0 508.7 L1156.0 511.1 L1160.0 513.7 L1164.0 516.2 L1168.0 518.7 L1172.0 521.2 L1176.0 523.7 L1180.0 526.2 L1184.0 528.7 L1188.0 531.2 L1192.0 533.7 L1196.0 536.2 L1200.0 538.6 L1204.0 541.0 L1208.0 543.4 L1212.0 545.8 L1216.0 548.2 L1220.0 550.5 L1224.0 552.7 L1228.0 555.0 L1232.0 557.2 L1236.0 559.4 L1240.0 561.5 L1244.0 563.7 L1248.0 565.8 L1252.0 568.0 L1256.0 570.1 L1260.0 572.3 L1264.0 574.5 L1268.0 576.7 L1272.0 578.9 L1276.0 581.1 L1280.0 583.4 L1284.0 585.7 L1288.0 588.0 L1292.0 590.4 L1296.0 592.7 L1300.0 595.1 L1304.0 597.5 L1308.0 600.0 L1312.0 602.4 L1316.0 604.9 L1320.0 607.4 L1324.0 609.9 L1328.0 612.5 L1332.0 615.0 L1336.0 617.6 L1340.0 620.2 L1344.0 622.8 L1348.0 625.4 L1352.0 628.0 L1356.0 630.6 L1360.0 633.2 L1364.0 635.7 L1368.0 638.3 L1372.0 640.9 L1376.0 643.4 L1380.0 645.9 L1384.0 648.4 L1388.0 650.9 L1392.0 653.3 L1396.0 655.7 L1400.0 658.1 L1404.0 660.4 L1408.0 662.7 L1412.0 665.0 L1416.0 667.2 L1420.0 669.5 L1424.0 671.8 L1428.0 674.1 L1432.0 676.4 L1436.0 678.8 L1440.0 681.2 L1444.0 683.6 L1448.0 686.0 L1452.0 688.5 L1456.0 691.0 L1460.0 693.4 L1464.0 695.9 L1468.0 698.3 L1472.0 700.7 L1476.0 703.1 L1480.0 705.5 L1484.0 707.8 L1488.0 710.1 L1492.0 712.3 L1496.0 714.6 L1500.0 716.8 L1504.0 719.0 L1508.0 721.1 L1512.0 723.3 L1516.0 725.4 L1520.0 727.6 L1524.0 729.7 L1528.0 731.9 L1532.0 734.0 L1536.0 736.2 L1540.0 738.4 L1544.0 740.6 L1548.0 742.9 L1552.0 745.2 L1556.0 747.4 L1560.0 749.7 L1564.0 752.0 L1568.0 754.4 L1572.0 756.7 L1576.0 759.0 L1580.0 761.3 L1584.0 763.5 L1588.0 765.7 L1592.0 767.9 L1596.0 770.0 L1600.0 772.1 L1604.0 774.2 L1608.0 776.2 L1612.0 778.3 L1616.0 780.2 L1620.0 782.2 L1624.0 784.1 L1628.0 786.0 L1632.0 787.9 L1636.0 789.7 L1640.0 791.5 L1644.0 793.3 L1648.0 795.1 L1652.0 796.8 L1656.0 798.5 L1660.0 800.3 L1664.0 801.9 L1668.0 803.6 L1672.0 805.3 L1676.0 806.9 L1680.0 808.5 L1684.0 810.0 L1688.0 811.6 L1692.0 813.1 L1696.0 814.6 L1700.0 816.1 L1704.0 817.5 L1708.0 818.9 L1712.0 820.3 L1716.0 821.6 L1720.0 822.9 L1724.0 824.2 L1728.0 825.5 L1732.0 826.7 L1736.0 827.9 L1740.0 829.0 L1744.0 830.1 L1748.0 831.2 L1752.0 832.3 L1756.0 833.3 L1760.0 834.3 L1764.0 835.2 L1768.0 836.2 L1772.0 837.1 L1776.0 838.0 L1780.0 838.9 L1784.0 839.7 L1788.0 840.6 L1792.0 841.4 L1796.0 842.2 L1800.0 843.1 L1804.0 843.9 L1808.0 844.7 L1812.0 845.5 L1816.0 846.3 L1820.0 847.1 L1824.0 847.9 L1828.0 848.8 L1832.0 849.6 L1836.0 850.4 L1840.0 851.3 L1844.0 852.2 L1848.0 853.0 L1852.0 854.0 L1856.0 854.9 L1860.0 855.8 L1864.0 856.8 L1868.0 857.8 L1872.0 858.7 L1876.0 859.7 L1880.0 860.7 L1884.0 861.8 L1888.0 862.8 L1892.0 863.8 L1896.0 864.8 L1900.0 865.8 L1904.0 866.8 L1908.0 867.9 L1912.0 868.9 L1916.0 869.9 L1920.0 870.9 L1924.0 871.8 L1928.0 872.8 L1932.0 873.8 L1936.0 874.8 L1940.0 875.7 L1944.0 876.7 L1948.0 877.6 L1952.0 878.6 L1956.0 879.5 L1960.0 880.4 L1964.0 881.3 L1968.0 882.2 L1972.0 883.1 L1976.0 884.0 L1980.0 884.8 L1984.0 885.7 L1988.0 886.5 L1992.0 887.3 L1996.0 888.1 L2000.0 888.9 L2004.0 889.7 L2008.0 890.4 L2012.0 891.1 L2016.0 891.9 L2020.0 892.6 L2024.0 893.3 L2028.0 893.9 L2032.0 894.6 L2036.0 895.3 L2040.0 895.9 L2044.0 896.5 L2048.0 897.1 L2052.0 897.7 L2056.0 898.3 L2060.0 898.9 L2064.0 899.4 L2068.0 900.0 L2072.0 900.5 L2076.0 901.1 L2080.0 901.6 L2084.0 902.1 L2088.0 902.6 L2092.0 903.1 L2096.0 903.6 L2100.0 904.1 L2104.0 904.5 L2108.0 905.0 L2112.0 905.4 L2116.0 905.9 L2120.0 906.3 L2124.0 906.7 L2128.0 907.1 L2132.0 907.6 L2136.0 907.9 L2140.0 908.3 L2144.0 908.7 L2148.0 909.1 L2152.0 909.4 L2156.0 909.8 L2160.0 910.1 L2164.0 910.5 L2168.0 910.8 L2172.0 911.1 L2176.0 911.4 L2180.0 911.7 L2184.0 911.9 L2188.0 912.2 L2192.0 912.5 L2196.0 912.7 L2200.0 912.9 L2204.0 913.1 L2208.0 913.4 L2212.0 913.6 L2216.0 913.7 L2220.0 913.9 L2224.0 914.1 L2228.0 914.2 L2232.0 914.4 L2236.0 914.5 L2240.0 914.7 L2244.0 914.8 L2248.0 914.9 L2252.0 915.0 L2256.0 915.1 L2260.0 915.2 L2264.0 915.3 L2268.0 915.4 L2272.0 915.5 L2276.0 915.6 L2280.0 915.7 L2284.0 915.8 L2288.0 915.8 L2292.0 915.9 L2296.0 916.0 L2300.0 916.0 L2304.0 916.1 L2308.0 916.2 L2312.0 916.3 L2316.0 916.3 L2320.0 916.4 L2324.0 916.4 L2328.0 916.5 L2332.0 916.6 L2336.0 916.6 L2340.0 916.7 L2344.0 916.8 L2348.0 916.8 L2352.0 916.9 L2356.0 916.9 L2360.0 917.0 L2364.0 917.1 L2368.0 917.1 L2372.0 917.2 L2376.0 917.2 L2380.0 917.3 L2384.0 917.3 L2388.0 917.4 L2392.0 917.5 L2396.0 917.5 L2400.0 917.6 L2404.0 917.6 L2408.0 917.7 L2412.0 917.7 L2416.0 917.8 L2420.0 917.8 L2424.0 917.9 L2428.0 917.9 L2432.0 918.0" stroke="#f8b0f8" stroke-width="11" opacity="0.55"/>
<path d="M136.0 852.6 L140.0 850.1 L144.0 847.7 L148.0 845.2 L152.0 842.6 L156.0 840.0 L160.0 837.4 L164.0 834.7 L168.0 832.0 L172.0 829.2 L176.0 826.4 L180.0 823.6 L184.0 820.8 L188.0 818.0 L192.0 815.2 L196.0 812.4 L200.0 809.6 L204.0 806.9 L208.0 804.2 L212.0 801.5 L216.0 798.9 L220.0 796.3 L224.0 793.7 L228.0 791.2 L232.0 788.5 L236.0 785.8 L240.0 783.0 L244.0 780.2 L248.0 777.2 L252.0 774.2 L256.0 771.1 L260.0 768.1 L264.0 765.0 L268.0 761.9 L272.0 758.8 L276.0 755.8 L280.0 752.8 L284.0 749.7 L288.0 746.7 L292.0 743.7 L296.0 740.8 L300.0 737.8 L304.0 734.9 L308.0 732.1 L312.0 729.2 L316.0 726.4 L320.0 723.7 L324.0 720.9 L328.0 718.3 L332.0 715.6 L336.0 713.0 L340.0 710.4 L344.0 707.8 L348.0 705.2 L352.0 702.5 L356.0 699.9 L360.0 697.3 L364.0 694.7 L368.0 692.0 L372.0 689.4 L376.0 686.8 L380.0 684.1 L384.0 681.5 L388.0 678.9 L392.0 676.3 L396.0 673.7 L400.0 671.0 L404.0 668.4 L408.0 665.8 L412.0 663.2 L416.0 660.6 L420.0 657.9 L424.0 655.3 L428.0 652.6 L432.0 649.9 L436.0 647.3 L440.0 644.6 L444.0 641.8 L448.0 639.1 L452.0 636.3 L456.0 633.6 L460.0 630.8 L464.0 628.0 L468.0 625.2 L472.0 622.3 L476.0 619.5 L480.0 616.6 L484.0 613.7 L488.0 610.8 L492.0 607.9 L496.0 604.9 L500.0 602.0 L504.0 599.0 L508.0 596.0 L512.0 593.0 L516.0 590.0 L520.0 587.0 L524.0 584.0 L528.0 581.0 L532.0 577.9 L536.0 574.9 L540.0 571.8 L544.0 568.8 L548.0 565.7 L552.0 562.7 L556.0 559.6 L560.0 556.6 L564.0 553.6 L568.0 550.5 L572.0 547.5 L576.0 544.5 L580.0 541.5 L584.0 538.5 L588.0 535.5 L592.0 532.6 L596.0 529.6 L600.0 526.7 L604.0 523.8 L608.0 521.0 L612.0 518.2 L616.0 515.4 L620.0 512.7 L624.0 510.0 L628.0 507.5 L632.0 505.0 L636.0 502.5 L640.0 500.2 L644.0 498.0 L648.0 495.8 L652.0 493.8 L656.0 491.8 L660.0 490.0 L664.0 488.2 L668.0 486.5 L672.0 484.8 L676.0 483.3 L680.0 481.7 L684.0 480.2 L688.0 478.8 L692.0 477.3 L696.0 475.9 L700.0 474.5 L704.0 473.0 L708.0 471.6 L712.0 470.2 L716.0 468.8 L720.0 467.3 L724.0 465.9 L728.0 464.5 L732.0 463.1 L736.0 461.7 L740.0 460.3 L744.0 459.0 L748.0 457.7 L752.0 456.4 L756.0 455.2 L760.0 454.1 L764.0 453.0 L768.0 451.9 L772.0 450.9 L776.0 450.0 L780.0 449.2 L784.0 448.4 L788.0 447.8 L792.0 447.2 L796.0 446.7 L800.0 446.2 L804.0 445.9 L808.0 445.6 L812.0 445.5 L816.0 445.4 L820.0 445.4 L824.0 445.4 L828.0 445.6 L832.0 445.8 L836.0 446.2 L840.0 446.5 L844.0 447.0 L848.0 447.6 L852.0 448.2 L856.0 448.9 L860.0 449.8 L864.0 450.8 L868.0 451.8 L872.0 453.1 L876.0 454.4 L880.0 455.9 L884.0 457.5 L888.0 459.2 L892.0 461.1 L896.0 463.1 L900.0 465.2 L904.0 467.5 L908.0 469.9 L912.0 472.3 L916.0 474.8 L920.0 477.3 L924.0 479.7 L928.0 482.1 L932.0 484.3 L936.0 486.3 L940.0 488.1 L944.0 489.8 L948.0 491.2 L952.0 492.4 L956.0 493.4 L960.0 494.2 L964.0 494.8 L968.0 495.3 L972.0 495.7 L976.0 495.9 L980.0 496.0 L984.0 496.1 L988.0 496.0 L992.0 495.9 L996.0 495.7 L1000.0 495.4 L1004.0 495.1 L1008.0 494.8 L1012.0 494.5 L1016.0 494.2 L1020.0 493.8 L1024.0 493.5 L1028.0 493.2 L1032.0 492.9 L1036.0 492.6 L1040.0 492.4 L1044.0 492.2 L1048.0 492.1 L1052.0 492.0 L1056.0 492.0 L1060.0 492.1 L1064.0 492.2 L1068.0 492.5 L1072.0 492.8 L1076.0 493.3 L1080.0 493.8 L1084.0 494.5 L1088.0 495.3 L1092.0 496.3 L1096.0 497.4 L1100.0 498.6 L1104.0 499.9 L1108.0 501.4 L1112.0 502.9 L1116.0 504.6 L1120.0 506.3 L1124.0 508.2 L1128.0 510.1 L1132.0 512.2 L1136.0 514.3 L1140.0 516.6 L1144.0 518.9 L1148.0 521.3 L1152.0 523.8 L1156.0 526.4 L1160.0 529.0 L1164.0 531.7 L1168.0 534.4 L1172.0 537.2 L1176.0 540.0 L1180.0 542.8 L1184.0 545.5 L1188.0 548.3 L1192.0 550.9 L1196.0 553.6 L1200.0 556.1 L1204.0 558.6 L1208.0 561.1 L1212.0 563.5 L1216.0 565.8 L1220.0 568.2 L1224.0 570.5 L1228.0 572.7 L1232.0 575.0 L1236.0 577.3 L1240.0 579.6 L1244.0 581.8 L1248.0 584.1 L1252.0 586.4 L1256.0 588.7 L1260.0 591.1 L1264.0 593.4 L1268.0 595.7 L1272.0 598.1 L1276.0 600.4 L1280.0 602.8 L1284.0 605.2 L1288.0 607.6 L1292.0 610.0 L1296.0 612.4 L1300.0 614.8 L1304.0 617.3 L1308.0 619.7 L1312.0 622.2 L1316.0 624.7 L1320.0 627.2 L1324.0 629.7 L1328.0 632.2 L1332.0 634.7 L1336.0 637.2 L1340.0 639.8 L1344.0 642.3 L1348.0 644.9 L1352.0 647.4 L1356.0 650.0 L1360.0 652.5 L1364.0 655.1 L1368.0 657.6 L1372.0 660.2 L1376.0 662.7 L1380.0 665.2 L1384.0 667.8 L1388.0 670.3 L1392.0 672.8 L1396.0 675.3 L1400.0 677.7 L1404.0 680.2 L1408.0 682.6 L1412.0 685.1 L1416.0 687.5 L1420.0 689.8 L1424.0 692.2 L1428.0 694.5 L1432.0 696.8 L1436.0 699.1 L1440.0 701.4 L1444.0 703.7 L1448.0 705.9 L1452.0 708.1 L1456.0 710.3 L1460.0 712.5 L1464.0 714.6 L1468.0 716.8 L1472.0 718.9 L1476.0 721.0 L1480.0 723.1 L1484.0 725.1 L1488.0 727.2 L1492.0 729.2 L1496.0 731.2 L1500.0 733.1 L1504.0 735.0 L1508.0 736.9 L1512.0 738.8 L1516.0 740.6 L1520.0 742.4 L1524.0 744.3 L1528.0 746.1 L1532.0 747.9 L1536.0 749.7 L1540.0 751.6 L1544.0 753.4 L1548.0 755.3 L1552.0 757.2 L1556.0 759.1 L1560.0 761.0 L1564.0 762.9 L1568.0 764.7 L1572.0 766.6 L1576.0 768.4 L1580.0 770.2 L1584.0 771.9 L1588.0 773.7 L1592.0 775.3 L1596.0 777.0 L1600.0 778.6 L1604.0 780.2 L1608.0 781.7 L1612.0 783.3 L1616.0 784.8 L1620.0 786.3 L1624.0 787.7 L1628.0 789.2 L1632.0 790.6 L1636.0 792.0 L1640.0 793.4 L1644.0 794.8 L1648.0 796.2 L1652.0 797.6 L1656.0 799.0 L1660.0 800.4 L1664.0 801.7 L1668.0 803.1 L1672.0 804.5 L1676.0 805.9 L1680.0 807.2 L1684.0 808.6 L1688.0 809.9 L1692.0 811.3 L1696.0 812.6 L1700.0 813.9 L1704.0 815.2 L1708.0 816.5 L1712.0 817.7 L1716.0 819.0 L1720.0 820.2 L1724.0 821.4 L1728.0 822.7 L1732.0 823.9 L1736.0 825.1 L1740.0 826.4 L1744.0 827.6 L1748.0 828.9 L1752.0 830.2 L1756.0 831.5 L1760.0 832.8 L1764.0 834.2 L1768.0 835.6 L1772.0 836.9 L1776.0 838.3 L1780.0 839.7 L1784.0 841.1 L1788.0 842.5 L1792.0 843.9 L1796.0 845.3 L1800.0 846.6 L1804.0 848.0 L1808.0 849.4 L1812.0 850.7 L1816.0 852.1 L1820.0 853.4 L1824.0 854.7 L1828.0 856.0 L1832.0 857.2 L1836.0 858.5 L1840.0 859.7 L1844.0 860.8 L1848.0 862.0 L1852.0 863.1 L1856.0 864.1 L1860.0 865.1 L1864.0 866.1 L1868.0 867.1 L1872.0 868.1 L1876.0 869.0 L1880.0 869.9 L1884.0 870.8 L1888.0 871.7 L1892.0 872.6 L1896.0 873.4 L1900.0 874.3 L1904.0 875.2 L1908.0 876.0 L1912.0 876.9 L1916.0 877.7 L1920.0 878.6 L1924.0 879.5 L1928.0 880.3 L1932.0 881.2 L1936.0 882.0 L1940.0 882.9 L1944.0 883.7 L1948.0 884.5 L1952.0 885.4 L1956.0 886.2 L1960.0 887.0 L1964.0 887.9 L1968.0 888.7 L1972.0 889.5 L1976.0 890.3 L1980.0 891.1 L1984.0 891.9 L1988.0 892.7 L1992.0 893.5 L1996.0 894.2 L2000.0 895.0 L2004.0 895.8 L2008.0 896.5 L2012.0 897.3 L2016.0 898.0 L2020.0 898.8 L2024.0 899.5 L2028.0 900.2 L2032.0 900.9 L2036.0 901.6 L2040.0 902.3 L2044.0 902.9 L2048.0 903.6 L2052.0 904.2 L2056.0 904.9 L2060.0 905.5 L2064.0 906.1 L2068.0 906.7 L2072.0 907.3 L2076.0 907.9 L2080.0 908.4 L2084.0 908.9 L2088.0 909.5 L2092.0 910.0 L2096.0 910.5 L2100.0 910.9 L2104.0 911.4 L2108.0 911.8 L2112.0 912.2 L2116.0 912.6 L2120.0 913.0 L2124.0 913.4 L2128.0 913.7 L2132.0 914.1 L2136.0 914.4 L2140.0 914.7 L2144.0 915.0 L2148.0 915.3 L2152.0 915.6 L2156.0 915.8 L2160.0 916.1 L2164.0 916.3 L2168.0 916.6 L2172.0 916.8 L2176.0 917.0 L2180.0 917.2 L2184.0 917.4 L2188.0 917.5 L2192.0 917.7 L2196.0 917.9 L2200.0 918.0 L2204.0 918.2 L2208.0 918.3 L2212.0 918.4 L2216.0 918.5 L2220.0 918.7 L2224.0 918.8 L2228.0 918.9 L2232.0 919.0 L2236.0 919.1 L2240.0 919.2 L2244.0 919.2 L2248.0 919.3 L2252.0 919.4 L2256.0 919.5 L2260.0 919.5 L2264.0 919.6 L2268.0 919.6 L2272.0 919.7 L2276.0 919.8 L2280.0 919.8 L2284.0 919.8 L2288.0 919.9 L2292.0 919.9 L2296.0 920.0 L2300.0 920.0 L2304.0 920.1 L2308.0 920.1 L2312.0 920.1 L2316.0 920.2 L2320.0 920.2 L2324.0 920.2 L2328.0 920.3 L2332.0 920.3 L2336.0 920.4 L2340.0 920.4 L2344.0 920.4 L2348.0 920.4 L2352.0 920.5 L2356.0 920.5 L2360.0 920.5 L2364.0 920.6 L2368.0 920.6 L2372.0 920.6 L2376.0 920.6 L2380.0 920.7 L2384.0 920.7 L2388.0 920.7 L2392.0 920.8 L2396.0 920.8 L2400.0 920.8 L2404.0 920.8 L2408.0 920.9 L2412.0 920.9 L2416.0 920.9 L2420.0 920.9 L2424.0 921.0 L2428.0 921.0 L2432.0 921.0" stroke="#cffafa" stroke-width="11" opacity="0.55"/>
<path d="M136.0 830.4 L140.0 826.8 L144.0 823.2 L148.0 819.6 L152.0 816.0 L156.0 812.3 L160.0 808.7 L164.0 805.1 L168.0 801.4 L172.0 797.7 L176.0 794.0 L180.0 790.2 L184.0 786.5 L188.0 782.7 L192.0 778.9 L196.0 775.0 L200.0 771.1 L204.0 767.2 L208.0 763.3 L212.0 759.3 L216.0 755.4 L220.0 751.3 L224.0 747.3 L228.0 743.2 L232.0 739.1 L236.0 735.0 L240.0 730.9 L244.0 726.7 L248.0 722.5 L252.0 718.2 L256.0 714.0 L260.0 709.7 L264.0 705.4 L268.0 701.1 L272.0 696.7 L276.0 692.3 L280.0 687.9 L284.0 683.5 L288.0 679.1 L292.0 674.6 L296.0 670.1 L300.0 665.6 L304.0 661.1 L308.0 656.6 L312.0 652.0 L316.0 647.5 L320.0 642.9 L324.0 638.4 L328.0 633.8 L332.0 629.3 L336.0 624.7 L340.0 620.1 L344.0 615.6 L348.0 611.0 L352.0 606.4 L356.0 601.8 L360.0 597.2 L364.0 592.6 L368.0 587.9 L372.0 583.3 L376.0 578.6 L380.0 573.9 L384.0 569.1 L388.0 564.3 L392.0 559.5 L396.0 554.7 L400.0 549.8 L404.0 544.9 L408.0 540.0 L412.0 535.0 L416.0 530.0 L420.0 525.0 L424.0 520.0 L428.0 514.9 L432.0 509.8 L436.0 504.7 L440.0 499.6 L444.0 494.5 L448.0 489.4 L452.0 484.3 L456.0 479.1 L460.0 474.0 L464.0 468.8 L468.0 463.7 L472.0 458.6 L476.0 453.4 L480.0 448.3 L484.0 443.2 L488.0 438.0 L492.0 432.9 L496.0 427.7 L500.0 422.6 L504.0 417.5 L508.0 412.3 L512.0 407.2 L516.0 402.1 L520.0 397.1 L524.0 392.0 L528.0 387.0 L532.0 382.1 L536.0 377.2 L540.0 372.3 L544.0 367.5 L548.0 362.8 L552.0 358.2 L556.0 353.6 L560.0 349.1 L564.0 344.7 L568.0 340.4 L572.0 336.2 L576.0 332.2 L580.0 328.2 L584.0 324.4 L588.0 320.6 L592.0 317.0 L596.0 313.6 L600.0 310.2 L604.0 306.9 L608.0 303.8 L612.0 300.8 L616.0 297.8 L620.0 295.0 L624.0 292.2 L628.0 289.6 L632.0 287.0 L636.0 284.5 L640.0 282.2 L644.0 279.9 L648.0 277.6 L652.0 275.5 L656.0 273.5 L660.0 271.5 L664.0 269.6 L668.0 267.8 L672.0 266.0 L676.0 264.4 L680.0 262.7 L684.0 261.2 L688.0 259.7 L692.0 258.3 L696.0 256.9 L700.0 255.7 L704.0 254.4 L708.0 253.3 L712.0 252.1 L716.0 251.1 L720.0 250.1 L724.0 249.2 L728.0 248.3 L732.0 247.5 L736.0 246.7 L740.0 246.1 L744.0 245.4 L748.0 244.9 L752.0 244.4 L756.0 243.9 L760.0 243.6 L764.0 243.2 L768.0 243.0 L772.0 242.8 L776.0 242.6 L780.0 242.5 L784.0 242.5 L788.0 242.5 L792.0 242.5 L796.0 242.6 L800.0 242.7 L804.0 242.9 L808.0 243.2 L812.0 243.5 L816.0 243.8 L820.0 244.2 L824.0 244.6 L828.0 245.1 L832.0 245.6 L836.0 246.2 L840.0 246.8 L844.0 247.5 L848.0 248.2 L852.0 249.0 L856.0 249.8 L860.0 250.7 L864.0 251.5 L868.0 252.5 L872.0 253.5 L876.0 254.5 L880.0 255.5 L884.0 256.6 L888.0 257.7 L892.0 258.9 L896.0 260.1 L900.0 261.4 L904.0 262.7 L908.0 264.0 L912.0 265.4 L916.0 266.8 L920.0 268.3 L924.0 269.8 L928.0 271.4 L932.0 273.0 L936.0 274.7 L940.0 276.4 L944.0 278.1 L948.0 280.0 L952.0 281.8 L956.0 283.8 L960.0 285.8 L964.0 287.8 L968.0 289.9 L972.0 292.1 L976.0 294.3 L980.0 296.5 L984.0 298.9 L988.0 301.3 L992.0 303.7 L996.0 306.2 L1000.0 308.7 L1004.0 311.3 L1008.0 313.9 L1012.0 316.6 L1016.0 319.4 L1020.0 322.1 L1024.0 325.0 L1028.0 327.8 L1032.0 330.7 L1036.0 333.7 L1040.0 336.6 L1044.0 339.6 L1048.0 342.6 L1052.0 345.6 L1056.0 348.7 L1060.0 351.7 L1064.0 354.8 L1068.0 357.9 L1072.0 361.0 L1076.0 364.1 L1080.0 367.1 L1084.0 370.3 L1088.0 373.4 L1092.0 376.5 L1096.0 379.7 L1100.0 382.8 L1104.0 386.0 L1108.0 389.2 L1112.0 392.4 L1116.0 395.7 L1120.0 398.9 L1124.0 402.2 L1128.0 405.5 L1132.0 408.9 L1136.0 412.2 L1140.0 415.6 L1144.0 419.0 L1148.0 422.4 L1152.0 425.8 L1156.0 429.3 L1160.0 432.7 L1164.0 436.1 L1168.0 439.6 L1172.0 443.0 L1176.0 446.4 L1180.0 449.8 L1184.0 453.2 L1188.0 456.6 L1192.0 460.0 L1196.0 463.3 L1200.0 466.7 L1204.0 470.0 L1208.0 473.3 L1212.0 476.5 L1216.0 479.8 L1220.0 483.0 L1224.0 486.2 L1228.0 489.4 L1232.0 492.6 L1236.0 495.7 L1240.0 498.9 L1244.0 502.0 L1248.0 505.1 L1252.0 508.2 L1256.0 511.3 L1260.0 514.3 L1264.0 517.4 L1268.0 520.4 L1272.0 523.4 L1276.0 526.5 L1280.0 529.5 L1284.0 532.5 L1288.0 535.5 L1292.0 538.5 L1296.0 541.5 L1300.0 544.5 L1304.0 547.4 L1308.0 550.4 L1312.0 553.4 L1316.0 556.4 L1320.0 559.3 L1324.0 562.3 L1328.0 565.2 L1332.0 568.2 L1336.0 571.1 L1340.0 574.1 L1344.0 577.0 L1348.0 579.9 L1352.0 582.8 L1356.0 585.7 L1360.0 588.6 L1364.0 591.5 L1368.0 594.4 L1372.0 597.2 L1376.0 600.1 L1380.0 602.9 L1384.0 605.7 L1388.0 608.5 L1392.0 611.3 L1396.0 614.1 L1400.0 616.8 L1404.0 619.6 L1408.0 622.3 L1412.0 625.0 L1416.0 627.7 L1420.0 630.3 L1424.0 633.0 L1428.0 635.6 L1432.0 638.2 L1436.0 640.8 L1440.0 643.4 L1444.0 645.9 L1448.0 648.4 L1452.0 650.9 L1456.0 653.4 L1460.0 655.8 L1464.0 658.3 L1468.0 660.7 L1472.0 663.1 L1476.0 665.5 L1480.0 667.9 L1484.0 670.2 L1488.0 672.6 L1492.0 675.0 L1496.0 677.3 L1500.0 679.6 L1504.0 681.9 L1508.0 684.3 L1512.0 686.6 L1516.0 688.8 L1520.0 691.1 L1524.0 693.4 L1528.0 695.6 L1532.0 697.9 L1536.0 700.1 L1540.0 702.3 L1544.0 704.4 L1548.0 706.6 L1552.0 708.7 L1556.0 710.9 L1560.0 713.0 L1564.0 715.1 L1568.0 717.2 L1572.0 719.2 L1576.0 721.3 L1580.0 723.3 L1584.0 725.4 L1588.0 727.4 L1592.0 729.3 L1596.0 731.3 L1600.0 733.3 L1604.0 735.2 L1608.0 737.1 L1612.0 739.0 L1616.0 740.9 L1620.0 742.8 L1624.0 744.6 L1628.0 746.5 L1632.0 748.3 L1636.0 750.2 L1640.0 752.0 L1644.0 753.8 L1648.0 755.6 L1652.0 757.4 L1656.0 759.3 L1660.0 761.1 L1664.0 762.9 L1668.0 764.7 L1672.0 766.6 L1676.0 768.4 L1680.0 770.2 L1684.0 772.0 L1688.0 773.7 L1692.0 775.5 L1696.0 777.3 L1700.0 779.0 L1704.0 780.7 L1708.0 782.4 L1712.0 784.1 L1716.0 785.7 L1720.0 787.4 L1724.0 789.0 L1728.0 790.6 L1732.0 792.1 L1736.0 793.7 L1740.0 795.2 L1744.0 796.7 L1748.0 798.1 L1752.0 799.6 L1756.0 801.0 L1760.0 802.4 L1764.0 803.8 L1768.0 805.2 L1772.0 806.5 L1776.0 807.8 L1780.0 809.1 L1784.0 810.4 L1788.0 811.6 L1792.0 812.9 L1796.0 814.1 L1800.0 815.3 L1804.0 816.4 L1808.0 817.6 L1812.0 818.7 L1816.0 819.8 L1820.0 820.9 L1824.0 822.0 L1828.0 823.0 L1832.0 824.0 L1836.0 825.0 L1840.0 826.0 L1844.0 827.0 L1848.0 828.0 L1852.0 828.9 L1856.0 829.8 L1860.0 830.7 L1864.0 831.6 L1868.0 832.5 L1872.0 833.3 L1876.0 834.2 L1880.0 835.0 L1884.0 835.9 L1888.0 836.7 L1892.0 837.5 L1896.0 838.3 L1900.0 839.1 L1904.0 840.0 L1908.0 840.8 L1912.0 841.6 L1916.0 842.4 L1920.0 843.2 L1924.0 844.0 L1928.0 844.8 L1932.0 845.6 L1936.0 846.4 L1940.0 847.3 L1944.0 848.1 L1948.0 848.9 L1952.0 849.7 L1956.0 850.5 L1960.0 851.3 L1964.0 852.1 L1968.0 852.9 L1972.0 853.7 L1976.0 854.5 L1980.0 855.3 L1984.0 856.1 L1988.0 856.9 L1992.0 857.7 L1996.0 858.5 L2000.0 859.3 L2004.0 860.1 L2008.0 860.9 L2012.0 861.7 L2016.0 862.4 L2020.0 863.2 L2024.0 864.0 L2028.0 864.8 L2032.0 865.6 L2036.0 866.3 L2040.0 867.1 L2044.0 867.9 L2048.0 868.6 L2052.0 869.4 L2056.0 870.1 L2060.0 870.8 L2064.0 871.6 L2068.0 872.3 L2072.0 873.0 L2076.0 873.7 L2080.0 874.3 L2084.0 875.0 L2088.0 875.7 L2092.0 876.3 L2096.0 876.9 L2100.0 877.5 L2104.0 878.1 L2108.0 878.7 L2112.0 879.3 L2116.0 879.9 L2120.0 880.4 L2124.0 880.9 L2128.0 881.5 L2132.0 882.0 L2136.0 882.5 L2140.0 883.0 L2144.0 883.5 L2148.0 883.9 L2152.0 884.4 L2156.0 884.8 L2160.0 885.3 L2164.0 885.7 L2168.0 886.1 L2172.0 886.5 L2176.0 887.0 L2180.0 887.4 L2184.0 887.8 L2188.0 888.1 L2192.0 888.5 L2196.0 888.9 L2200.0 889.3 L2204.0 889.7 L2208.0 890.0 L2212.0 890.4 L2216.0 890.7 L2220.0 891.1 L2224.0 891.4 L2228.0 891.8 L2232.0 892.1 L2236.0 892.5 L2240.0 892.8 L2244.0 893.1 L2248.0 893.4 L2252.0 893.7 L2256.0 894.0 L2260.0 894.3 L2264.0 894.6 L2268.0 894.9 L2272.0 895.1 L2276.0 895.4 L2280.0 895.6 L2284.0 895.9 L2288.0 896.1 L2292.0 896.3 L2296.0 896.6 L2300.0 896.8 L2304.0 897.0 L2308.0 897.2 L2312.0 897.3 L2316.0 897.5 L2320.0 897.7 L2324.0 897.8 L2328.0 898.0 L2332.0 898.1 L2336.0 898.3 L2340.0 898.4 L2344.0 898.5 L2348.0 898.6 L2352.0 898.7 L2356.0 898.8 L2360.0 898.9 L2364.0 899.0 L2368.0 899.1 L2372.0 899.2 L2376.0 899.3 L2380.0 899.4 L2384.0 899.4 L2388.0 899.5 L2392.0 899.6 L2396.0 899.6 L2400.0 899.7 L2404.0 899.8 L2408.0 899.8 L2412.0 899.9 L2416.0 899.9 L2420.0 900.0 L2424.0 900.0 L2428.0 900.1 L2432.0 900.1" stroke="#a84a64" stroke-width="5.5"/>
<path d="M136.0 834.8 L140.0 831.1 L144.0 827.5 L148.0 823.8 L152.0 820.1 L156.0 816.4 L160.0 812.7 L164.0 808.9 L168.0 805.2 L172.0 801.4 L176.0 797.6 L180.0 793.8 L184.0 789.9 L188.0 786.1 L192.0 782.2 L196.0 778.2 L200.0 774.3 L204.0 770.3 L208.0 766.3 L212.0 762.3 L216.0 758.2 L220.0 754.1 L224.0 750.0 L228.0 745.9 L232.0 741.7 L236.0 737.5 L240.0 733.4 L244.0 729.2 L248.0 725.0 L252.0 720.8 L256.0 716.6 L260.0 712.4 L264.0 708.2 L268.0 704.0 L272.0 699.8 L276.0 695.6 L280.0 691.4 L284.0 687.2 L288.0 683.1 L292.0 678.9 L296.0 674.7 L300.0 670.6 L304.0 666.5 L308.0 662.3 L312.0 658.2 L316.0 654.1 L320.0 650.1 L324.0 646.0 L328.0 641.9 L332.0 637.9 L336.0 633.8 L340.0 629.7 L344.0 625.6 L348.0 621.5 L352.0 617.3 L356.0 613.2 L360.0 608.9 L364.0 604.7 L368.0 600.4 L372.0 596.1 L376.0 591.8 L380.0 587.4 L384.0 582.9 L388.0 578.4 L392.0 573.9 L396.0 569.3 L400.0 564.7 L404.0 560.1 L408.0 555.4 L412.0 550.7 L416.0 545.9 L420.0 541.2 L424.0 536.4 L428.0 531.6 L432.0 526.8 L436.0 522.0 L440.0 517.2 L444.0 512.4 L448.0 507.6 L452.0 502.8 L456.0 498.0 L460.0 493.2 L464.0 488.4 L468.0 483.6 L472.0 478.9 L476.0 474.2 L480.0 469.5 L484.0 464.8 L488.0 460.1 L492.0 455.5 L496.0 450.9 L500.0 446.3 L504.0 441.7 L508.0 437.1 L512.0 432.6 L516.0 428.1 L520.0 423.6 L524.0 419.1 L528.0 414.7 L532.0 410.3 L536.0 406.0 L540.0 401.7 L544.0 397.4 L548.0 393.2 L552.0 389.1 L556.0 385.0 L560.0 380.9 L564.0 377.0 L568.0 373.1 L572.0 369.2 L576.0 365.4 L580.0 361.7 L584.0 358.0 L588.0 354.3 L592.0 350.8 L596.0 347.3 L600.0 343.8 L604.0 340.4 L608.0 337.1 L612.0 333.8 L616.0 330.6 L620.0 327.5 L624.0 324.5 L628.0 321.5 L632.0 318.6 L636.0 315.8 L640.0 313.1 L644.0 310.5 L648.0 308.0 L652.0 305.5 L656.0 303.2 L660.0 301.0 L664.0 298.9 L668.0 296.8 L672.0 294.9 L676.0 293.0 L680.0 291.3 L684.0 289.6 L688.0 288.0 L692.0 286.5 L696.0 285.0 L700.0 283.7 L704.0 282.4 L708.0 281.1 L712.0 280.0 L716.0 278.9 L720.0 277.8 L724.0 276.8 L728.0 275.9 L732.0 275.0 L736.0 274.2 L740.0 273.4 L744.0 272.7 L748.0 272.1 L752.0 271.5 L756.0 271.0 L760.0 270.5 L764.0 270.1 L768.0 269.7 L772.0 269.4 L776.0 269.2 L780.0 269.0 L784.0 268.9 L788.0 268.8 L792.0 268.8 L796.0 268.8 L800.0 268.9 L804.0 269.0 L808.0 269.2 L812.0 269.4 L816.0 269.6 L820.0 269.9 L824.0 270.3 L828.0 270.7 L832.0 271.1 L836.0 271.5 L840.0 272.0 L844.0 272.6 L848.0 273.1 L852.0 273.7 L856.0 274.3 L860.0 275.0 L864.0 275.7 L868.0 276.4 L872.0 277.2 L876.0 278.0 L880.0 278.8 L884.0 279.7 L888.0 280.7 L892.0 281.7 L896.0 282.7 L900.0 283.8 L904.0 285.0 L908.0 286.2 L912.0 287.5 L916.0 288.8 L920.0 290.2 L924.0 291.7 L928.0 293.2 L932.0 294.8 L936.0 296.4 L940.0 298.1 L944.0 299.9 L948.0 301.7 L952.0 303.5 L956.0 305.4 L960.0 307.3 L964.0 309.3 L968.0 311.4 L972.0 313.5 L976.0 315.6 L980.0 317.8 L984.0 320.0 L988.0 322.2 L992.0 324.6 L996.0 326.9 L1000.0 329.3 L1004.0 331.8 L1008.0 334.3 L1012.0 336.8 L1016.0 339.4 L1020.0 342.0 L1024.0 344.6 L1028.0 347.3 L1032.0 350.0 L1036.0 352.8 L1040.0 355.6 L1044.0 358.3 L1048.0 361.2 L1052.0 364.0 L1056.0 366.8 L1060.0 369.7 L1064.0 372.6 L1068.0 375.5 L1072.0 378.4 L1076.0 381.4 L1080.0 384.4 L1084.0 387.4 L1088.0 390.5 L1092.0 393.6 L1096.0 396.7 L1100.0 399.8 L1104.0 403.0 L1108.0 406.1 L1112.0 409.3 L1116.0 412.5 L1120.0 415.8 L1124.0 419.0 L1128.0 422.2 L1132.0 425.5 L1136.0 428.8 L1140.0 432.0 L1144.0 435.3 L1148.0 438.6 L1152.0 441.8 L1156.0 445.1 L1160.0 448.3 L1164.0 451.6 L1168.0 454.9 L1172.0 458.1 L1176.0 461.3 L1180.0 464.5 L1184.0 467.7 L1188.0 470.9 L1192.0 474.1 L1196.0 477.3 L1200.0 480.4 L1204.0 483.6 L1208.0 486.7 L1212.0 489.8 L1216.0 492.9 L1220.0 496.0 L1224.0 499.1 L1228.0 502.1 L1232.0 505.2 L1236.0 508.2 L1240.0 511.3 L1244.0 514.3 L1248.0 517.3 L1252.0 520.3 L1256.0 523.3 L1260.0 526.3 L1264.0 529.3 L1268.0 532.3 L1272.0 535.3 L1276.0 538.2 L1280.0 541.2 L1284.0 544.2 L1288.0 547.1 L1292.0 550.1 L1296.0 553.1 L1300.0 556.0 L1304.0 559.0 L1308.0 561.9 L1312.0 564.9 L1316.0 567.8 L1320.0 570.7 L1324.0 573.6 L1328.0 576.5 L1332.0 579.3 L1336.0 582.2 L1340.0 585.0 L1344.0 587.8 L1348.0 590.6 L1352.0 593.3 L1356.0 596.1 L1360.0 598.8 L1364.0 601.5 L1368.0 604.2 L1372.0 606.9 L1376.0 609.5 L1380.0 612.2 L1384.0 614.8 L1388.0 617.4 L1392.0 620.0 L1396.0 622.6 L1400.0 625.1 L1404.0 627.7 L1408.0 630.2 L1412.0 632.7 L1416.0 635.2 L1420.0 637.7 L1424.0 640.2 L1428.0 642.6 L1432.0 645.1 L1436.0 647.5 L1440.0 650.0 L1444.0 652.4 L1448.0 654.8 L1452.0 657.2 L1456.0 659.6 L1460.0 662.1 L1464.0 664.5 L1468.0 666.9 L1472.0 669.4 L1476.0 671.8 L1480.0 674.3 L1484.0 676.8 L1488.0 679.3 L1492.0 681.8 L1496.0 684.3 L1500.0 686.8 L1504.0 689.4 L1508.0 692.0 L1512.0 694.6 L1516.0 697.2 L1520.0 699.8 L1524.0 702.4 L1528.0 705.0 L1532.0 707.6 L1536.0 710.2 L1540.0 712.8 L1544.0 715.4 L1548.0 717.9 L1552.0 720.4 L1556.0 722.9 L1560.0 725.4 L1564.0 727.8 L1568.0 730.2 L1572.0 732.6 L1576.0 734.9 L1580.0 737.2 L1584.0 739.4 L1588.0 741.6 L1592.0 743.7 L1596.0 745.8 L1600.0 747.8 L1604.0 749.8 L1608.0 751.8 L1612.0 753.7 L1616.0 755.6 L1620.0 757.4 L1624.0 759.2 L1628.0 761.0 L1632.0 762.7 L1636.0 764.5 L1640.0 766.1 L1644.0 767.8 L1648.0 769.4 L1652.0 771.0 L1656.0 772.6 L1660.0 774.1 L1664.0 775.6 L1668.0 777.1 L1672.0 778.6 L1676.0 780.1 L1680.0 781.5 L1684.0 782.9 L1688.0 784.4 L1692.0 785.7 L1696.0 787.1 L1700.0 788.5 L1704.0 789.8 L1708.0 791.1 L1712.0 792.5 L1716.0 793.8 L1720.0 795.1 L1724.0 796.4 L1728.0 797.7 L1732.0 798.9 L1736.0 800.2 L1740.0 801.5 L1744.0 802.7 L1748.0 804.0 L1752.0 805.2 L1756.0 806.5 L1760.0 807.7 L1764.0 809.0 L1768.0 810.2 L1772.0 811.4 L1776.0 812.6 L1780.0 813.8 L1784.0 815.0 L1788.0 816.2 L1792.0 817.4 L1796.0 818.6 L1800.0 819.8 L1804.0 820.9 L1808.0 822.1 L1812.0 823.2 L1816.0 824.3 L1820.0 825.4 L1824.0 826.5 L1828.0 827.6 L1832.0 828.6 L1836.0 829.7 L1840.0 830.7 L1844.0 831.7 L1848.0 832.7 L1852.0 833.7 L1856.0 834.7 L1860.0 835.6 L1864.0 836.6 L1868.0 837.5 L1872.0 838.4 L1876.0 839.3 L1880.0 840.1 L1884.0 841.0 L1888.0 841.9 L1892.0 842.7 L1896.0 843.6 L1900.0 844.4 L1904.0 845.2 L1908.0 846.1 L1912.0 846.9 L1916.0 847.7 L1920.0 848.5 L1924.0 849.3 L1928.0 850.2 L1932.0 851.0 L1936.0 851.8 L1940.0 852.6 L1944.0 853.4 L1948.0 854.2 L1952.0 855.0 L1956.0 855.7 L1960.0 856.5 L1964.0 857.3 L1968.0 858.1 L1972.0 858.9 L1976.0 859.7 L1980.0 860.5 L1984.0 861.2 L1988.0 862.0 L1992.0 862.8 L1996.0 863.6 L2000.0 864.4 L2004.0 865.2 L2008.0 865.9 L2012.0 866.7 L2016.0 867.5 L2020.0 868.3 L2024.0 869.1 L2028.0 869.8 L2032.0 870.6 L2036.0 871.4 L2040.0 872.1 L2044.0 872.9 L2048.0 873.6 L2052.0 874.4 L2056.0 875.1 L2060.0 875.8 L2064.0 876.5 L2068.0 877.3 L2072.0 878.0 L2076.0 878.6 L2080.0 879.3 L2084.0 880.0 L2088.0 880.6 L2092.0 881.3 L2096.0 881.9 L2100.0 882.5 L2104.0 883.1 L2108.0 883.7 L2112.0 884.3 L2116.0 884.9 L2120.0 885.4 L2124.0 885.9 L2128.0 886.5 L2132.0 887.0 L2136.0 887.5 L2140.0 888.0 L2144.0 888.4 L2148.0 888.9 L2152.0 889.4 L2156.0 889.8 L2160.0 890.3 L2164.0 890.7 L2168.0 891.1 L2172.0 891.6 L2176.0 892.0 L2180.0 892.4 L2184.0 892.8 L2188.0 893.2 L2192.0 893.5 L2196.0 893.9 L2200.0 894.3 L2204.0 894.7 L2208.0 895.1 L2212.0 895.4 L2216.0 895.8 L2220.0 896.1 L2224.0 896.5 L2228.0 896.8 L2232.0 897.2 L2236.0 897.5 L2240.0 897.8 L2244.0 898.1 L2248.0 898.4 L2252.0 898.8 L2256.0 899.0 L2260.0 899.3 L2264.0 899.6 L2268.0 899.9 L2272.0 900.1 L2276.0 900.4 L2280.0 900.6 L2284.0 900.9 L2288.0 901.1 L2292.0 901.3 L2296.0 901.5 L2300.0 901.7 L2304.0 901.9 L2308.0 902.1 L2312.0 902.3 L2316.0 902.4 L2320.0 902.6 L2324.0 902.7 L2328.0 902.8 L2332.0 902.9 L2336.0 903.1 L2340.0 903.2 L2344.0 903.3 L2348.0 903.3 L2352.0 903.4 L2356.0 903.5 L2360.0 903.6 L2364.0 903.6 L2368.0 903.7 L2372.0 903.7 L2376.0 903.8 L2380.0 903.8 L2384.0 903.9 L2388.0 903.9 L2392.0 903.9 L2396.0 904.0 L2400.0 904.0 L2404.0 904.0 L2408.0 904.1 L2412.0 904.1 L2416.0 904.1 L2420.0 904.1 L2424.0 904.1 L2428.0 904.1 L2432.0 904.2" stroke="#4c7aa2" stroke-width="5.5"/>
<path d="M136.0 840.2 L140.0 836.7 L144.0 833.1 L148.0 829.5 L152.0 825.9 L156.0 822.3 L160.0 818.7 L164.0 815.1 L168.0 811.4 L172.0 807.7 L176.0 804.1 L180.0 800.3 L184.0 796.6 L188.0 792.9 L192.0 789.2 L196.0 785.4 L200.0 781.6 L204.0 777.9 L208.0 774.1 L212.0 770.4 L216.0 766.6 L220.0 762.8 L224.0 759.1 L228.0 755.3 L232.0 751.6 L236.0 747.9 L240.0 744.2 L244.0 740.5 L248.0 736.9 L252.0 733.2 L256.0 729.6 L260.0 726.0 L264.0 722.4 L268.0 718.8 L272.0 715.2 L276.0 711.6 L280.0 708.0 L284.0 704.4 L288.0 700.8 L292.0 697.2 L296.0 693.6 L300.0 690.0 L304.0 686.4 L308.0 682.8 L312.0 679.2 L316.0 675.5 L320.0 671.9 L324.0 668.2 L328.0 664.5 L332.0 660.8 L336.0 657.0 L340.0 653.3 L344.0 649.5 L348.0 645.6 L352.0 641.8 L356.0 637.8 L360.0 633.9 L364.0 629.9 L368.0 625.9 L372.0 621.9 L376.0 617.8 L380.0 613.6 L384.0 609.5 L388.0 605.3 L392.0 601.1 L396.0 596.9 L400.0 592.7 L404.0 588.5 L408.0 584.3 L412.0 580.1 L416.0 575.8 L420.0 571.6 L424.0 567.4 L428.0 563.2 L432.0 559.0 L436.0 554.8 L440.0 550.6 L444.0 546.4 L448.0 542.2 L452.0 538.1 L456.0 533.9 L460.0 529.8 L464.0 525.6 L468.0 521.5 L472.0 517.3 L476.0 513.2 L480.0 509.1 L484.0 505.0 L488.0 500.8 L492.0 496.7 L496.0 492.6 L500.0 488.5 L504.0 484.4 L508.0 480.3 L512.0 476.3 L516.0 472.2 L520.0 468.1 L524.0 464.1 L528.0 460.1 L532.0 456.0 L536.0 452.0 L540.0 448.0 L544.0 444.0 L548.0 440.0 L552.0 436.0 L556.0 432.1 L560.0 428.1 L564.0 424.2 L568.0 420.3 L572.0 416.4 L576.0 412.6 L580.0 408.8 L584.0 405.1 L588.0 401.4 L592.0 397.7 L596.0 394.1 L600.0 390.5 L604.0 387.1 L608.0 383.6 L612.0 380.3 L616.0 377.0 L620.0 373.8 L624.0 370.7 L628.0 367.6 L632.0 364.7 L636.0 361.8 L640.0 359.0 L644.0 356.2 L648.0 353.6 L652.0 351.0 L656.0 348.5 L660.0 346.1 L664.0 343.7 L668.0 341.4 L672.0 339.2 L676.0 337.1 L680.0 335.0 L684.0 333.0 L688.0 331.1 L692.0 329.2 L696.0 327.4 L700.0 325.7 L704.0 324.0 L708.0 322.4 L712.0 320.9 L716.0 319.5 L720.0 318.1 L724.0 316.7 L728.0 315.5 L732.0 314.3 L736.0 313.1 L740.0 312.1 L744.0 311.1 L748.0 310.1 L752.0 309.3 L756.0 308.4 L760.0 307.7 L764.0 307.0 L768.0 306.4 L772.0 305.8 L776.0 305.3 L780.0 304.8 L784.0 304.4 L788.0 304.1 L792.0 303.7 L796.0 303.5 L800.0 303.3 L804.0 303.1 L808.0 303.0 L812.0 302.9 L816.0 302.8 L820.0 302.8 L824.0 302.8 L828.0 302.9 L832.0 303.0 L836.0 303.2 L840.0 303.4 L844.0 303.6 L848.0 303.9 L852.0 304.2 L856.0 304.6 L860.0 305.0 L864.0 305.5 L868.0 306.0 L872.0 306.6 L876.0 307.2 L880.0 307.9 L884.0 308.7 L888.0 309.5 L892.0 310.4 L896.0 311.3 L900.0 312.3 L904.0 313.4 L908.0 314.5 L912.0 315.8 L916.0 317.0 L920.0 318.4 L924.0 319.8 L928.0 321.4 L932.0 322.9 L936.0 324.6 L940.0 326.3 L944.0 328.1 L948.0 329.9 L952.0 331.8 L956.0 333.7 L960.0 335.8 L964.0 337.8 L968.0 340.0 L972.0 342.2 L976.0 344.4 L980.0 346.7 L984.0 349.0 L988.0 351.4 L992.0 353.8 L996.0 356.2 L1000.0 358.7 L1004.0 361.2 L1008.0 363.8 L1012.0 366.3 L1016.0 368.9 L1020.0 371.5 L1024.0 374.2 L1028.0 376.8 L1032.0 379.5 L1036.0 382.2 L1040.0 384.9 L1044.0 387.6 L1048.0 390.4 L1052.0 393.1 L1056.0 395.9 L1060.0 398.7 L1064.0 401.5 L1068.0 404.4 L1072.0 407.2 L1076.0 410.1 L1080.0 413.0 L1084.0 415.9 L1088.0 418.8 L1092.0 421.7 L1096.0 424.6 L1100.0 427.5 L1104.0 430.5 L1108.0 433.4 L1112.0 436.3 L1116.0 439.3 L1120.0 442.2 L1124.0 445.1 L1128.0 448.1 L1132.0 451.0 L1136.0 453.9 L1140.0 456.8 L1144.0 459.7 L1148.0 462.5 L1152.0 465.4 L1156.0 468.3 L1160.0 471.1 L1164.0 474.0 L1168.0 476.8 L1172.0 479.7 L1176.0 482.5 L1180.0 485.3 L1184.0 488.2 L1188.0 491.0 L1192.0 493.8 L1196.0 496.7 L1200.0 499.5 L1204.0 502.4 L1208.0 505.2 L1212.0 508.1 L1216.0 510.9 L1220.0 513.8 L1224.0 516.6 L1228.0 519.5 L1232.0 522.4 L1236.0 525.3 L1240.0 528.1 L1244.0 531.0 L1248.0 533.9 L1252.0 536.8 L1256.0 539.7 L1260.0 542.6 L1264.0 545.5 L1268.0 548.3 L1272.0 551.2 L1276.0 554.1 L1280.0 556.9 L1284.0 559.8 L1288.0 562.7 L1292.0 565.5 L1296.0 568.4 L1300.0 571.2 L1304.0 574.0 L1308.0 576.9 L1312.0 579.7 L1316.0 582.5 L1320.0 585.4 L1324.0 588.2 L1328.0 591.1 L1332.0 593.9 L1336.0 596.8 L1340.0 599.6 L1344.0 602.5 L1348.0 605.3 L1352.0 608.2 L1356.0 611.0 L1360.0 613.8 L1364.0 616.6 L1368.0 619.4 L1372.0 622.2 L1376.0 625.0 L1380.0 627.8 L1384.0 630.6 L1388.0 633.3 L1392.0 636.0 L1396.0 638.7 L1400.0 641.4 L1404.0 644.1 L1408.0 646.7 L1412.0 649.3 L1416.0 651.9 L1420.0 654.5 L1424.0 657.0 L1428.0 659.6 L1432.0 662.1 L1436.0 664.6 L1440.0 667.0 L1444.0 669.5 L1448.0 671.9 L1452.0 674.4 L1456.0 676.8 L1460.0 679.2 L1464.0 681.5 L1468.0 683.9 L1472.0 686.3 L1476.0 688.6 L1480.0 690.9 L1484.0 693.2 L1488.0 695.5 L1492.0 697.8 L1496.0 700.0 L1500.0 702.3 L1504.0 704.5 L1508.0 706.7 L1512.0 709.0 L1516.0 711.2 L1520.0 713.3 L1524.0 715.5 L1528.0 717.7 L1532.0 719.9 L1536.0 722.0 L1540.0 724.2 L1544.0 726.3 L1548.0 728.4 L1552.0 730.5 L1556.0 732.6 L1560.0 734.7 L1564.0 736.8 L1568.0 738.8 L1572.0 740.8 L1576.0 742.8 L1580.0 744.8 L1584.0 746.8 L1588.0 748.7 L1592.0 750.6 L1596.0 752.5 L1600.0 754.4 L1604.0 756.3 L1608.0 758.1 L1612.0 760.0 L1616.0 761.8 L1620.0 763.6 L1624.0 765.4 L1628.0 767.2 L1632.0 769.0 L1636.0 770.8 L1640.0 772.5 L1644.0 774.3 L1648.0 776.0 L1652.0 777.8 L1656.0 779.5 L1660.0 781.2 L1664.0 782.9 L1668.0 784.6 L1672.0 786.2 L1676.0 787.9 L1680.0 789.5 L1684.0 791.1 L1688.0 792.8 L1692.0 794.3 L1696.0 795.9 L1700.0 797.5 L1704.0 799.0 L1708.0 800.5 L1712.0 802.1 L1716.0 803.5 L1720.0 805.0 L1724.0 806.5 L1728.0 807.9 L1732.0 809.3 L1736.0 810.8 L1740.0 812.2 L1744.0 813.5 L1748.0 814.9 L1752.0 816.3 L1756.0 817.6 L1760.0 819.0 L1764.0 820.3 L1768.0 821.6 L1772.0 823.0 L1776.0 824.2 L1780.0 825.5 L1784.0 826.8 L1788.0 828.0 L1792.0 829.3 L1796.0 830.5 L1800.0 831.7 L1804.0 832.9 L1808.0 834.1 L1812.0 835.2 L1816.0 836.4 L1820.0 837.5 L1824.0 838.6 L1828.0 839.6 L1832.0 840.7 L1836.0 841.7 L1840.0 842.7 L1844.0 843.7 L1848.0 844.7 L1852.0 845.6 L1856.0 846.5 L1860.0 847.4 L1864.0 848.3 L1868.0 849.1 L1872.0 850.0 L1876.0 850.8 L1880.0 851.6 L1884.0 852.4 L1888.0 853.1 L1892.0 853.9 L1896.0 854.7 L1900.0 855.4 L1904.0 856.1 L1908.0 856.9 L1912.0 857.6 L1916.0 858.3 L1920.0 859.0 L1924.0 859.7 L1928.0 860.4 L1932.0 861.1 L1936.0 861.7 L1940.0 862.4 L1944.0 863.1 L1948.0 863.8 L1952.0 864.4 L1956.0 865.1 L1960.0 865.8 L1964.0 866.4 L1968.0 867.1 L1972.0 867.7 L1976.0 868.4 L1980.0 869.1 L1984.0 869.7 L1988.0 870.4 L1992.0 871.0 L1996.0 871.7 L2000.0 872.4 L2004.0 873.0 L2008.0 873.7 L2012.0 874.4 L2016.0 875.1 L2020.0 875.7 L2024.0 876.4 L2028.0 877.1 L2032.0 877.8 L2036.0 878.4 L2040.0 879.1 L2044.0 879.8 L2048.0 880.5 L2052.0 881.1 L2056.0 881.8 L2060.0 882.5 L2064.0 883.1 L2068.0 883.8 L2072.0 884.5 L2076.0 885.1 L2080.0 885.8 L2084.0 886.4 L2088.0 887.1 L2092.0 887.7 L2096.0 888.3 L2100.0 888.9 L2104.0 889.6 L2108.0 890.2 L2112.0 890.8 L2116.0 891.4 L2120.0 892.0 L2124.0 892.5 L2128.0 893.1 L2132.0 893.7 L2136.0 894.2 L2140.0 894.8 L2144.0 895.3 L2148.0 895.8 L2152.0 896.4 L2156.0 896.9 L2160.0 897.4 L2164.0 897.9 L2168.0 898.3 L2172.0 898.8 L2176.0 899.3 L2180.0 899.7 L2184.0 900.2 L2188.0 900.6 L2192.0 901.0 L2196.0 901.4 L2200.0 901.8 L2204.0 902.2 L2208.0 902.5 L2212.0 902.9 L2216.0 903.2 L2220.0 903.5 L2224.0 903.9 L2228.0 904.2 L2232.0 904.5 L2236.0 904.7 L2240.0 905.0 L2244.0 905.3 L2248.0 905.5 L2252.0 905.8 L2256.0 906.0 L2260.0 906.2 L2264.0 906.4 L2268.0 906.7 L2272.0 906.9 L2276.0 907.0 L2280.0 907.2 L2284.0 907.4 L2288.0 907.6 L2292.0 907.7 L2296.0 907.9 L2300.0 908.0 L2304.0 908.1 L2308.0 908.3 L2312.0 908.4 L2316.0 908.5 L2320.0 908.6 L2324.0 908.7 L2328.0 908.8 L2332.0 908.9 L2336.0 909.0 L2340.0 909.1 L2344.0 909.2 L2348.0 909.2 L2352.0 909.3 L2356.0 909.4 L2360.0 909.4 L2364.0 909.5 L2368.0 909.5 L2372.0 909.6 L2376.0 909.6 L2380.0 909.7 L2384.0 909.7 L2388.0 909.8 L2392.0 909.8 L2396.0 909.8 L2400.0 909.9 L2404.0 909.9 L2408.0 909.9 L2412.0 910.0 L2416.0 910.0 L2420.0 910.0 L2424.0 910.0 L2428.0 910.1 L2432.0 910.1" stroke="#d6c690" stroke-width="5.5"/>
<path d="M136.0 844.4 L140.0 841.4 L144.0 838.3 L148.0 835.2 L152.0 832.1 L156.0 829.0 L160.0 825.9 L164.0 822.7 L168.0 819.6 L172.0 816.4 L176.0 813.3 L180.0 810.2 L184.0 807.0 L188.0 803.9 L192.0 800.7 L196.0 797.6 L200.0 794.5 L204.0 791.3 L208.0 788.1 L212.0 785.0 L216.0 781.8 L220.0 778.6 L224.0 775.4 L228.0 772.2 L232.0 768.9 L236.0 765.7 L240.0 762.4 L244.0 759.2 L248.0 755.9 L252.0 752.6 L256.0 749.2 L260.0 745.9 L264.0 742.6 L268.0 739.2 L272.0 735.8 L276.0 732.5 L280.0 729.1 L284.0 725.7 L288.0 722.3 L292.0 718.9 L296.0 715.5 L300.0 712.1 L304.0 708.7 L308.0 705.3 L312.0 701.9 L316.0 698.5 L320.0 695.1 L324.0 691.7 L328.0 688.4 L332.0 685.0 L336.0 681.5 L340.0 678.1 L344.0 674.7 L348.0 671.2 L352.0 667.8 L356.0 664.3 L360.0 660.8 L364.0 657.3 L368.0 653.7 L372.0 650.1 L376.0 646.5 L380.0 642.9 L384.0 639.3 L388.0 635.6 L392.0 632.0 L396.0 628.3 L400.0 624.6 L404.0 620.8 L408.0 617.1 L412.0 613.4 L416.0 609.6 L420.0 605.9 L424.0 602.2 L428.0 598.4 L432.0 594.7 L436.0 591.0 L440.0 587.2 L444.0 583.5 L448.0 579.8 L452.0 576.1 L456.0 572.4 L460.0 568.7 L464.0 565.0 L468.0 561.3 L472.0 557.6 L476.0 554.0 L480.0 550.3 L484.0 546.6 L488.0 542.9 L492.0 539.2 L496.0 535.5 L500.0 531.9 L504.0 528.2 L508.0 524.5 L512.0 520.7 L516.0 517.0 L520.0 513.3 L524.0 509.5 L528.0 505.7 L532.0 501.9 L536.0 498.1 L540.0 494.3 L544.0 490.5 L548.0 486.7 L552.0 482.9 L556.0 479.2 L560.0 475.4 L564.0 471.7 L568.0 468.0 L572.0 464.3 L576.0 460.6 L580.0 457.0 L584.0 453.5 L588.0 450.0 L592.0 446.6 L596.0 443.2 L600.0 439.9 L604.0 436.6 L608.0 433.4 L612.0 430.3 L616.0 427.2 L620.0 424.2 L624.0 421.2 L628.0 418.3 L632.0 415.5 L636.0 412.8 L640.0 410.1 L644.0 407.5 L648.0 405.0 L652.0 402.6 L656.0 400.2 L660.0 397.9 L664.0 395.7 L668.0 393.6 L672.0 391.5 L676.0 389.5 L680.0 387.6 L684.0 385.7 L688.0 383.9 L692.0 382.1 L696.0 380.4 L700.0 378.8 L704.0 377.2 L708.0 375.6 L712.0 374.2 L716.0 372.7 L720.0 371.3 L724.0 370.0 L728.0 368.7 L732.0 367.5 L736.0 366.3 L740.0 365.2 L744.0 364.1 L748.0 363.1 L752.0 362.2 L756.0 361.3 L760.0 360.4 L764.0 359.7 L768.0 358.9 L772.0 358.3 L776.0 357.6 L780.0 357.1 L784.0 356.6 L788.0 356.1 L792.0 355.7 L796.0 355.4 L800.0 355.1 L804.0 354.8 L808.0 354.7 L812.0 354.5 L816.0 354.5 L820.0 354.4 L824.0 354.5 L828.0 354.6 L832.0 354.7 L836.0 355.0 L840.0 355.2 L844.0 355.6 L848.0 355.9 L852.0 356.4 L856.0 356.9 L860.0 357.5 L864.0 358.1 L868.0 358.8 L872.0 359.6 L876.0 360.4 L880.0 361.3 L884.0 362.3 L888.0 363.3 L892.0 364.5 L896.0 365.7 L900.0 367.0 L904.0 368.4 L908.0 369.9 L912.0 371.4 L916.0 373.1 L920.0 374.8 L924.0 376.7 L928.0 378.6 L932.0 380.5 L936.0 382.5 L940.0 384.5 L944.0 386.6 L948.0 388.7 L952.0 390.8 L956.0 392.9 L960.0 395.0 L964.0 397.0 L968.0 399.1 L972.0 401.1 L976.0 403.1 L980.0 405.1 L984.0 407.0 L988.0 408.9 L992.0 410.8 L996.0 412.7 L1000.0 414.5 L1004.0 416.3 L1008.0 418.0 L1012.0 419.8 L1016.0 421.5 L1020.0 423.2 L1024.0 424.8 L1028.0 426.5 L1032.0 428.1 L1036.0 429.8 L1040.0 431.4 L1044.0 433.1 L1048.0 434.7 L1052.0 436.4 L1056.0 438.1 L1060.0 439.8 L1064.0 441.6 L1068.0 443.4 L1072.0 445.3 L1076.0 447.2 L1080.0 449.1 L1084.0 451.1 L1088.0 453.1 L1092.0 455.2 L1096.0 457.4 L1100.0 459.5 L1104.0 461.8 L1108.0 464.0 L1112.0 466.3 L1116.0 468.6 L1120.0 471.0 L1124.0 473.3 L1128.0 475.7 L1132.0 478.1 L1136.0 480.5 L1140.0 482.9 L1144.0 485.4 L1148.0 487.8 L1152.0 490.2 L1156.0 492.6 L1160.0 495.0 L1164.0 497.5 L1168.0 499.9 L1172.0 502.3 L1176.0 504.8 L1180.0 507.2 L1184.0 509.7 L1188.0 512.1 L1192.0 514.6 L1196.0 517.1 L1200.0 519.5 L1204.0 522.0 L1208.0 524.5 L1212.0 527.0 L1216.0 529.5 L1220.0 532.0 L1224.0 534.5 L1228.0 537.0 L1232.0 539.6 L1236.0 542.1 L1240.0 544.7 L1244.0 547.3 L1248.0 549.8 L1252.0 552.4 L1256.0 555.0 L1260.0 557.5 L1264.0 560.1 L1268.0 562.6 L1272.0 565.2 L1276.0 567.7 L1280.0 570.2 L1284.0 572.7 L1288.0 575.2 L1292.0 577.7 L1296.0 580.1 L1300.0 582.5 L1304.0 585.0 L1308.0 587.4 L1312.0 589.8 L1316.0 592.2 L1320.0 594.6 L1324.0 597.0 L1328.0 599.4 L1332.0 601.8 L1336.0 604.1 L1340.0 606.5 L1344.0 608.9 L1348.0 611.3 L1352.0 613.6 L1356.0 616.0 L1360.0 618.3 L1364.0 620.7 L1368.0 623.0 L1372.0 625.3 L1376.0 627.7 L1380.0 630.0 L1384.0 632.3 L1388.0 634.6 L1392.0 636.8 L1396.0 639.1 L1400.0 641.4 L1404.0 643.6 L1408.0 645.9 L1412.0 648.1 L1416.0 650.4 L1420.0 652.6 L1424.0 654.9 L1428.0 657.2 L1432.0 659.5 L1436.0 661.9 L1440.0 664.2 L1444.0 666.6 L1448.0 669.1 L1452.0 671.6 L1456.0 674.1 L1460.0 676.7 L1464.0 679.3 L1468.0 682.0 L1472.0 684.6 L1476.0 687.3 L1480.0 690.0 L1484.0 692.7 L1488.0 695.4 L1492.0 698.1 L1496.0 700.8 L1500.0 703.5 L1504.0 706.1 L1508.0 708.7 L1512.0 711.3 L1516.0 713.9 L1520.0 716.4 L1524.0 719.0 L1528.0 721.4 L1532.0 723.9 L1536.0 726.3 L1540.0 728.7 L1544.0 731.1 L1548.0 733.4 L1552.0 735.6 L1556.0 737.9 L1560.0 740.1 L1564.0 742.2 L1568.0 744.3 L1572.0 746.4 L1576.0 748.4 L1580.0 750.4 L1584.0 752.4 L1588.0 754.3 L1592.0 756.2 L1596.0 758.1 L1600.0 759.9 L1604.0 761.7 L1608.0 763.5 L1612.0 765.3 L1616.0 767.0 L1620.0 768.7 L1624.0 770.4 L1628.0 772.1 L1632.0 773.8 L1636.0 775.4 L1640.0 777.1 L1644.0 778.7 L1648.0 780.3 L1652.0 781.9 L1656.0 783.5 L1660.0 785.1 L1664.0 786.7 L1668.0 788.3 L1672.0 789.9 L1676.0 791.5 L1680.0 793.1 L1684.0 794.6 L1688.0 796.2 L1692.0 797.8 L1696.0 799.4 L1700.0 801.1 L1704.0 802.7 L1708.0 804.3 L1712.0 806.0 L1716.0 807.6 L1720.0 809.3 L1724.0 810.9 L1728.0 812.6 L1732.0 814.2 L1736.0 815.9 L1740.0 817.5 L1744.0 819.1 L1748.0 820.7 L1752.0 822.3 L1756.0 823.9 L1760.0 825.5 L1764.0 827.0 L1768.0 828.6 L1772.0 830.1 L1776.0 831.6 L1780.0 833.1 L1784.0 834.5 L1788.0 836.0 L1792.0 837.4 L1796.0 838.8 L1800.0 840.1 L1804.0 841.5 L1808.0 842.8 L1812.0 844.1 L1816.0 845.3 L1820.0 846.5 L1824.0 847.7 L1828.0 848.9 L1832.0 850.1 L1836.0 851.2 L1840.0 852.2 L1844.0 853.3 L1848.0 854.3 L1852.0 855.3 L1856.0 856.2 L1860.0 857.1 L1864.0 858.0 L1868.0 858.9 L1872.0 859.7 L1876.0 860.5 L1880.0 861.3 L1884.0 862.1 L1888.0 862.9 L1892.0 863.7 L1896.0 864.5 L1900.0 865.3 L1904.0 866.1 L1908.0 866.8 L1912.0 867.6 L1916.0 868.4 L1920.0 869.2 L1924.0 870.0 L1928.0 870.8 L1932.0 871.6 L1936.0 872.4 L1940.0 873.1 L1944.0 873.9 L1948.0 874.7 L1952.0 875.4 L1956.0 876.2 L1960.0 876.9 L1964.0 877.6 L1968.0 878.3 L1972.0 879.0 L1976.0 879.7 L1980.0 880.4 L1984.0 881.0 L1988.0 881.7 L1992.0 882.3 L1996.0 882.9 L2000.0 883.5 L2004.0 884.1 L2008.0 884.6 L2012.0 885.1 L2016.0 885.6 L2020.0 886.1 L2024.0 886.6 L2028.0 887.0 L2032.0 887.5 L2036.0 887.9 L2040.0 888.3 L2044.0 888.7 L2048.0 889.1 L2052.0 889.4 L2056.0 889.8 L2060.0 890.1 L2064.0 890.5 L2068.0 890.8 L2072.0 891.1 L2076.0 891.4 L2080.0 891.7 L2084.0 892.0 L2088.0 892.3 L2092.0 892.5 L2096.0 892.8 L2100.0 893.1 L2104.0 893.3 L2108.0 893.6 L2112.0 893.8 L2116.0 894.1 L2120.0 894.3 L2124.0 894.6 L2128.0 894.8 L2132.0 895.1 L2136.0 895.3 L2140.0 895.5 L2144.0 895.8 L2148.0 896.0 L2152.0 896.2 L2156.0 896.5 L2160.0 896.7 L2164.0 897.0 L2168.0 897.2 L2172.0 897.5 L2176.0 897.7 L2180.0 898.0 L2184.0 898.2 L2188.0 898.5 L2192.0 898.7 L2196.0 899.0 L2200.0 899.3 L2204.0 899.6 L2208.0 899.9 L2212.0 900.2 L2216.0 900.4 L2220.0 900.7 L2224.0 901.1 L2228.0 901.4 L2232.0 901.7 L2236.0 902.0 L2240.0 902.3 L2244.0 902.6 L2248.0 902.9 L2252.0 903.2 L2256.0 903.5 L2260.0 903.9 L2264.0 904.2 L2268.0 904.5 L2272.0 904.8 L2276.0 905.1 L2280.0 905.4 L2284.0 905.7 L2288.0 905.9 L2292.0 906.2 L2296.0 906.5 L2300.0 906.8 L2304.0 907.0 L2308.0 907.3 L2312.0 907.5 L2316.0 907.8 L2320.0 908.0 L2324.0 908.3 L2328.0 908.5 L2332.0 908.7 L2336.0 908.9 L2340.0 909.1 L2344.0 909.3 L2348.0 909.5 L2352.0 909.7 L2356.0 909.9 L2360.0 910.1 L2364.0 910.3 L2368.0 910.5 L2372.0 910.7 L2376.0 910.8 L2380.0 911.0 L2384.0 911.2 L2388.0 911.3 L2392.0 911.5 L2396.0 911.7 L2400.0 911.8 L2404.0 912.0 L2408.0 912.1 L2412.0 912.3 L2416.0 912.5 L2420.0 912.6 L2424.0 912.8 L2428.0 912.9 L2432.0 913.1" stroke="#90d690" stroke-width="5.5"/>
<path d="M136.0 848.4 L140.0 845.6 L144.0 842.8 L148.0 840.0 L152.0 837.2 L156.0 834.3 L160.0 831.4 L164.0 828.4 L168.0 825.5 L172.0 822.5 L176.0 819.6 L180.0 816.6 L184.0 813.7 L188.0 810.8 L192.0 807.9 L196.0 805.0 L200.0 802.2 L204.0 799.3 L208.0 796.5 L212.0 793.7 L216.0 790.9 L220.0 788.2 L224.0 785.4 L228.0 782.6 L232.0 779.8 L236.0 777.0 L240.0 774.2 L244.0 771.3 L248.0 768.4 L252.0 765.5 L256.0 762.5 L260.0 759.4 L264.0 756.3 L268.0 753.2 L272.0 750.0 L276.0 746.8 L280.0 743.5 L284.0 740.2 L288.0 736.8 L292.0 733.4 L296.0 730.0 L300.0 726.5 L304.0 723.0 L308.0 719.5 L312.0 716.0 L316.0 712.4 L320.0 708.9 L324.0 705.4 L328.0 701.9 L332.0 698.4 L336.0 695.0 L340.0 691.6 L344.0 688.2 L348.0 685.0 L352.0 681.7 L356.0 678.5 L360.0 675.3 L364.0 672.2 L368.0 669.1 L372.0 666.0 L376.0 663.0 L380.0 659.9 L384.0 656.9 L388.0 653.8 L392.0 650.7 L396.0 647.6 L400.0 644.4 L404.0 641.2 L408.0 637.9 L412.0 634.6 L416.0 631.4 L420.0 628.1 L424.0 624.8 L428.0 621.5 L432.0 618.2 L436.0 614.9 L440.0 611.6 L444.0 608.3 L448.0 605.1 L452.0 601.8 L456.0 598.6 L460.0 595.3 L464.0 592.1 L468.0 588.9 L472.0 585.7 L476.0 582.6 L480.0 579.5 L484.0 576.4 L488.0 573.3 L492.0 570.3 L496.0 567.2 L500.0 564.2 L504.0 561.1 L508.0 558.0 L512.0 554.8 L516.0 551.6 L520.0 548.3 L524.0 545.0 L528.0 541.7 L532.0 538.4 L536.0 535.0 L540.0 531.6 L544.0 528.2 L548.0 524.8 L552.0 521.3 L556.0 517.9 L560.0 514.5 L564.0 511.1 L568.0 507.6 L572.0 504.2 L576.0 500.8 L580.0 497.5 L584.0 494.1 L588.0 490.8 L592.0 487.4 L596.0 484.2 L600.0 480.9 L604.0 477.7 L608.0 474.5 L612.0 471.4 L616.0 468.3 L620.0 465.2 L624.0 462.2 L628.0 459.3 L632.0 456.3 L636.0 453.5 L640.0 450.6 L644.0 447.9 L648.0 445.2 L652.0 442.5 L656.0 440.0 L660.0 437.4 L664.0 435.0 L668.0 432.6 L672.0 430.3 L676.0 428.1 L680.0 425.9 L684.0 423.8 L688.0 421.8 L692.0 419.9 L696.0 418.0 L700.0 416.2 L704.0 414.6 L708.0 413.0 L712.0 411.4 L716.0 410.0 L720.0 408.6 L724.0 407.3 L728.0 406.1 L732.0 404.9 L736.0 403.8 L740.0 402.8 L744.0 401.8 L748.0 400.8 L752.0 400.0 L756.0 399.2 L760.0 398.4 L764.0 397.7 L768.0 397.1 L772.0 396.5 L776.0 396.0 L780.0 395.5 L784.0 395.1 L788.0 394.7 L792.0 394.4 L796.0 394.2 L800.0 394.0 L804.0 393.9 L808.0 393.8 L812.0 393.9 L816.0 393.9 L820.0 394.1 L824.0 394.3 L828.0 394.6 L832.0 395.0 L836.0 395.5 L840.0 396.1 L844.0 396.9 L848.0 397.7 L852.0 398.7 L856.0 399.8 L860.0 401.1 L864.0 402.6 L868.0 404.1 L872.0 405.8 L876.0 407.7 L880.0 409.6 L884.0 411.6 L888.0 413.6 L892.0 415.7 L896.0 417.8 L900.0 419.9 L904.0 422.0 L908.0 424.1 L912.0 426.1 L916.0 428.0 L920.0 429.8 L924.0 431.6 L928.0 433.2 L932.0 434.7 L936.0 436.0 L940.0 437.3 L944.0 438.5 L948.0 439.5 L952.0 440.5 L956.0 441.4 L960.0 442.2 L964.0 442.9 L968.0 443.6 L972.0 444.3 L976.0 444.9 L980.0 445.5 L984.0 446.2 L988.0 446.8 L992.0 447.4 L996.0 448.0 L1000.0 448.7 L1004.0 449.4 L1008.0 450.1 L1012.0 450.9 L1016.0 451.7 L1020.0 452.5 L1024.0 453.4 L1028.0 454.3 L1032.0 455.2 L1036.0 456.2 L1040.0 457.3 L1044.0 458.4 L1048.0 459.5 L1052.0 460.7 L1056.0 461.9 L1060.0 463.1 L1064.0 464.5 L1068.0 465.8 L1072.0 467.2 L1076.0 468.7 L1080.0 470.2 L1084.0 471.8 L1088.0 473.5 L1092.0 475.2 L1096.0 477.1 L1100.0 479.0 L1104.0 480.9 L1108.0 483.0 L1112.0 485.1 L1116.0 487.3 L1120.0 489.5 L1124.0 491.8 L1128.0 494.1 L1132.0 496.5 L1136.0 498.9 L1140.0 501.3 L1144.0 503.7 L1148.0 506.2 L1152.0 508.7 L1156.0 511.1 L1160.0 513.7 L1164.0 516.2 L1168.0 518.7 L1172.0 521.2 L1176.0 523.7 L1180.0 526.2 L1184.0 528.7 L1188.0 531.2 L1192.0 533.7 L1196.0 536.2 L1200.0 538.6 L1204.0 541.0 L1208.0 543.4 L1212.0 545.8 L1216.0 548.2 L1220.0 550.5 L1224.0 552.7 L1228.0 555.0 L1232.0 557.2 L1236.0 559.4 L1240.0 561.5 L1244.0 563.7 L1248.0 565.8 L1252.0 568.0 L1256.0 570.1 L1260.0 572.3 L1264.0 574.5 L1268.0 576.7 L1272.0 578.9 L1276.0 581.1 L1280.0 583.4 L1284.0 585.7 L1288.0 588.0 L1292.0 590.4 L1296.0 592.7 L1300.0 595.1 L1304.0 597.5 L1308.0 600.0 L1312.0 602.4 L1316.0 604.9 L1320.0 607.4 L1324.0 609.9 L1328.0 612.5 L1332.0 615.0 L1336.0 617.6 L1340.0 620.2 L1344.0 622.8 L1348.0 625.4 L1352.0 628.0 L1356.0 630.6 L1360.0 633.2 L1364.0 635.7 L1368.0 638.3 L1372.0 640.9 L1376.0 643.4 L1380.0 645.9 L1384.0 648.4 L1388.0 650.9 L1392.0 653.3 L1396.0 655.7 L1400.0 658.1 L1404.0 660.4 L1408.0 662.7 L1412.0 665.0 L1416.0 667.2 L1420.0 669.5 L1424.0 671.8 L1428.0 674.1 L1432.0 676.4 L1436.0 678.8 L1440.0 681.2 L1444.0 683.6 L1448.0 686.0 L1452.0 688.5 L1456.0 691.0 L1460.0 693.4 L1464.0 695.9 L1468.0 698.3 L1472.0 700.7 L1476.0 703.1 L1480.0 705.5 L1484.0 707.8 L1488.0 710.1 L1492.0 712.3 L1496.0 714.6 L1500.0 716.8 L1504.0 719.0 L1508.0 721.1 L1512.0 723.3 L1516.0 725.4 L1520.0 727.6 L1524.0 729.7 L1528.0 731.9 L1532.0 734.0 L1536.0 736.2 L1540.0 738.4 L1544.0 740.6 L1548.0 742.9 L1552.0 745.2 L1556.0 747.4 L1560.0 749.7 L1564.0 752.0 L1568.0 754.4 L1572.0 756.7 L1576.0 759.0 L1580.0 761.3 L1584.0 763.5 L1588.0 765.7 L1592.0 767.9 L1596.0 770.0 L1600.0 772.1 L1604.0 774.2 L1608.0 776.2 L1612.0 778.3 L1616.0 780.2 L1620.0 782.2 L1624.0 784.1 L1628.0 786.0 L1632.0 787.9 L1636.0 789.7 L1640.0 791.5 L1644.0 793.3 L1648.0 795.1 L1652.0 796.8 L1656.0 798.5 L1660.0 800.3 L1664.0 801.9 L1668.0 803.6 L1672.0 805.3 L1676.0 806.9 L1680.0 808.5 L1684.0 810.0 L1688.0 811.6 L1692.0 813.1 L1696.0 814.6 L1700.0 816.1 L1704.0 817.5 L1708.0 818.9 L1712.0 820.3 L1716.0 821.6 L1720.0 822.9 L1724.0 824.2 L1728.0 825.5 L1732.0 826.7 L1736.0 827.9 L1740.0 829.0 L1744.0 830.1 L1748.0 831.2 L1752.0 832.3 L1756.0 833.3 L1760.0 834.3 L1764.0 835.2 L1768.0 836.2 L1772.0 837.1 L1776.0 838.0 L1780.0 838.9 L1784.0 839.7 L1788.0 840.6 L1792.0 841.4 L1796.0 842.2 L1800.0 843.1 L1804.0 843.9 L1808.0 844.7 L1812.0 845.5 L1816.0 846.3 L1820.0 847.1 L1824.0 847.9 L1828.0 848.8 L1832.0 849.6 L1836.0 850.4 L1840.0 851.3 L1844.0 852.2 L1848.0 853.0 L1852.0 854.0 L1856.0 854.9 L1860.0 855.8 L1864.0 856.8 L1868.0 857.8 L1872.0 858.7 L1876.0 859.7 L1880.0 860.7 L1884.0 861.8 L1888.0 862.8 L1892.0 863.8 L1896.0 864.8 L1900.0 865.8 L1904.0 866.8 L1908.0 867.9 L1912.0 868.9 L1916.0 869.9 L1920.0 870.9 L1924.0 871.8 L1928.0 872.8 L1932.0 873.8 L1936.0 874.8 L1940.0 875.7 L1944.0 876.7 L1948.0 877.6 L1952.0 878.6 L1956.0 879.5 L1960.0 880.4 L1964.0 881.3 L1968.0 882.2 L1972.0 883.1 L1976.0 884.0 L1980.0 884.8 L1984.0 885.7 L1988.0 886.5 L1992.0 887.3 L1996.0 888.1 L2000.0 888.9 L2004.0 889.7 L2008.0 890.4 L2012.0 891.1 L2016.0 891.9 L2020.0 892.6 L2024.0 893.3 L2028.0 893.9 L2032.0 894.6 L2036.0 895.3 L2040.0 895.9 L2044.0 896.5 L2048.0 897.1 L2052.0 897.7 L2056.0 898.3 L2060.0 898.9 L2064.0 899.4 L2068.0 900.0 L2072.0 900.5 L2076.0 901.1 L2080.0 901.6 L2084.0 902.1 L2088.0 902.6 L2092.0 903.1 L2096.0 903.6 L2100.0 904.1 L2104.0 904.5 L2108.0 905.0 L2112.0 905.4 L2116.0 905.9 L2120.0 906.3 L2124.0 906.7 L2128.0 907.1 L2132.0 907.6 L2136.0 907.9 L2140.0 908.3 L2144.0 908.7 L2148.0 909.1 L2152.0 909.4 L2156.0 909.8 L2160.0 910.1 L2164.0 910.5 L2168.0 910.8 L2172.0 911.1 L2176.0 911.4 L2180.0 911.7 L2184.0 911.9 L2188.0 912.2 L2192.0 912.5 L2196.0 912.7 L2200.0 912.9 L2204.0 913.1 L2208.0 913.4 L2212.0 913.6 L2216.0 913.7 L2220.0 913.9 L2224.0 914.1 L2228.0 914.2 L2232.0 914.4 L2236.0 914.5 L2240.0 914.7 L2244.0 914.8 L2248.0 914.9 L2252.0 915.0 L2256.0 915.1 L2260.0 915.2 L2264.0 915.3 L2268.0 915.4 L2272.0 915.5 L2276.0 915.6 L2280.0 915.7 L2284.0 915.8 L2288.0 915.8 L2292.0 915.9 L2296.0 916.0 L2300.0 916.0 L2304.0 916.1 L2308.0 916.2 L2312.0 916.3 L2316.0 916.3 L2320.0 916.4 L2324.0 916.4 L2328.0 916.5 L2332.0 916.6 L2336.0 916.6 L2340.0 916.7 L2344.0 916.8 L2348.0 916.8 L2352.0 916.9 L2356.0 916.9 L2360.0 917.0 L2364.0 917.1 L2368.0 917.1 L2372.0 917.2 L2376.0 917.2 L2380.0 917.3 L2384.0 917.3 L2388.0 917.4 L2392.0 917.5 L2396.0 917.5 L2400.0 917.6 L2404.0 917.6 L2408.0 917.7 L2412.0 917.7 L2416.0 917.8 L2420.0 917.8 L2424.0 917.9 L2428.0 917.9 L2432.0 918.0" stroke="#bc80cc" stroke-width="5.5"/>
<path d="M136.0 852.6 L140.0 850.1 L144.0 847.7 L148.0 845.2 L152.0 842.6 L156.0 840.0 L160.0 837.4 L164.0 834.7 L168.0 832.0 L172.0 829.2 L176.0 826.4 L180.0 823.6 L184.0 820.8 L188.0 818.0 L192.0 815.2 L196.0 812.4 L200.0 809.6 L204.0 806.9 L208.0 804.2 L212.0 801.5 L216.0 798.9 L220.0 796.3 L224.0 793.7 L228.0 791.2 L232.0 788.5 L236.0 785.8 L240.0 783.0 L244.0 780.2 L248.0 777.2 L252.0 774.2 L256.0 771.1 L260.0 768.1 L264.0 765.0 L268.0 761.9 L272.0 758.8 L276.0 755.8 L280.0 752.8 L284.0 749.7 L288.0 746.7 L292.0 743.7 L296.0 740.8 L300.0 737.8 L304.0 734.9 L308.0 732.1 L312.0 729.2 L316.0 726.4 L320.0 723.7 L324.0 720.9 L328.0 718.3 L332.0 715.6 L336.0 713.0 L340.0 710.4 L344.0 707.8 L348.0 705.2 L352.0 702.5 L356.0 699.9 L360.0 697.3 L364.0 694.7 L368.0 692.0 L372.0 689.4 L376.0 686.8 L380.0 684.1 L384.0 681.5 L388.0 678.9 L392.0 676.3 L396.0 673.7 L400.0 671.0 L404.0 668.4 L408.0 665.8 L412.0 663.2 L416.0 660.6 L420.0 657.9 L424.0 655.3 L428.0 652.6 L432.0 649.9 L436.0 647.3 L440.0 644.6 L444.0 641.8 L448.0 639.1 L452.0 636.3 L456.0 633.6 L460.0 630.8 L464.0 628.0 L468.0 625.2 L472.0 622.3 L476.0 619.5 L480.0 616.6 L484.0 613.7 L488.0 610.8 L492.0 607.9 L496.0 604.9 L500.0 602.0 L504.0 599.0 L508.0 596.0 L512.0 593.0 L516.0 590.0 L520.0 587.0 L524.0 584.0 L528.0 581.0 L532.0 577.9 L536.0 574.9 L540.0 571.8 L544.0 568.8 L548.0 565.7 L552.0 562.7 L556.0 559.6 L560.0 556.6 L564.0 553.6 L568.0 550.5 L572.0 547.5 L576.0 544.5 L580.0 541.5 L584.0 538.5 L588.0 535.5 L592.0 532.6 L596.0 529.6 L600.0 526.7 L604.0 523.8 L608.0 521.0 L612.0 518.2 L616.0 515.4 L620.0 512.7 L624.0 510.0 L628.0 507.5 L632.0 505.0 L636.0 502.5 L640.0 500.2 L644.0 498.0 L648.0 495.8 L652.0 493.8 L656.0 491.8 L660.0 490.0 L664.0 488.2 L668.0 486.5 L672.0 484.8 L676.0 483.3 L680.0 481.7 L684.0 480.2 L688.0 478.8 L692.0 477.3 L696.0 475.9 L700.0 474.5 L704.0 473.0 L708.0 471.6 L712.0 470.2 L716.0 468.8 L720.0 467.3 L724.0 465.9 L728.0 464.5 L732.0 463.1 L736.0 461.7 L740.0 460.3 L744.0 459.0 L748.0 457.7 L752.0 456.4 L756.0 455.2 L760.0 454.1 L764.0 453.0 L768.0 451.9 L772.0 450.9 L776.0 450.0 L780.0 449.2 L784.0 448.4 L788.0 447.8 L792.0 447.2 L796.0 446.7 L800.0 446.2 L804.0 445.9 L808.0 445.6 L812.0 445.5 L816.0 445.4 L820.0 445.4 L824.0 445.4 L828.0 445.6 L832.0 445.8 L836.0 446.2 L840.0 446.5 L844.0 447.0 L848.0 447.6 L852.0 448.2 L856.0 448.9 L860.0 449.8 L864.0 450.8 L868.0 451.8 L872.0 453.1 L876.0 454.4 L880.0 455.9 L884.0 457.5 L888.0 459.2 L892.0 461.1 L896.0 463.1 L900.0 465.2 L904.0 467.5 L908.0 469.9 L912.0 472.3 L916.0 474.8 L920.0 477.3 L924.0 479.7 L928.0 482.1 L932.0 484.3 L936.0 486.3 L940.0 488.1 L944.0 489.8 L948.0 491.2 L952.0 492.4 L956.0 493.4 L960.0 494.2 L964.0 494.8 L968.0 495.3 L972.0 495.7 L976.0 495.9 L980.0 496.0 L984.0 496.1 L988.0 496.0 L992.0 495.9 L996.0 495.7 L1000.0 495.4 L1004.0 495.1 L1008.0 494.8 L1012.0 494.5 L1016.0 494.2 L1020.0 493.8 L1024.0 493.5 L1028.0 493.2 L1032.0 492.9 L1036.0 492.6 L1040.0 492.4 L1044.0 492.2 L1048.0 492.1 L1052.0 492.0 L1056.0 492.0 L1060.0 492.1 L1064.0 492.2 L1068.0 492.5 L1072.0 492.8 L1076.0 493.3 L1080.0 493.8 L1084.0 494.5 L1088.0 495.3 L1092.0 496.3 L1096.0 497.4 L1100.0 498.6 L1104.0 499.9 L1108.0 501.4 L1112.0 502.9 L1116.0 504.6 L1120.0 506.3 L1124.0 508.2 L1128.0 510.1 L1132.0 512.2 L1136.0 514.3 L1140.0 516.6 L1144.0 518.9 L1148.0 521.3 L1152.0 523.8 L1156.0 526.4 L1160.0 529.0 L1164.0 531.7 L1168.0 534.4 L1172.0 537.2 L1176.0 540.0 L1180.0 542.8 L1184.0 545.5 L1188.0 548.3 L1192.0 550.9 L1196.0 553.6 L1200.0 556.1 L1204.0 558.6 L1208.0 561.1 L1212.0 563.5 L1216.0 565.8 L1220.0 568.2 L1224.0 570.5 L1228.0 572.7 L1232.0 575.0 L1236.0 577.3 L1240.0 579.6 L1244.0 581.8 L1248.0 584.1 L1252.0 586.4 L1256.0 588.7 L1260.0 591.1 L1264.0 593.4 L1268.0 595.7 L1272.0 598.1 L1276.0 600.4 L1280.0 602.8 L1284.0 605.2 L1288.0 607.6 L1292.0 610.0 L1296.0 612.4 L1300.0 614.8 L1304.0 617.3 L1308.0 619.7 L1312.0 622.2 L1316.0 624.7 L1320.0 627.2 L1324.0 629.7 L1328.0 632.2 L1332.0 634.7 L1336.0 637.2 L1340.0 639.8 L1344.0 642.3 L1348.0 644.9 L1352.0 647.4 L1356.0 650.0 L1360.0 652.5 L1364.0 655.1 L1368.0 657.6 L1372.0 660.2 L1376.0 662.7 L1380.0 665.2 L1384.0 667.8 L1388.0 670.3 L1392.0 672.8 L1396.0 675.3 L1400.0 677.7 L1404.0 680.2 L1408.0 682.6 L1412.0 685.1 L1416.0 687.5 L1420.0 689.8 L1424.0 692.2 L1428.0 694.5 L1432.0 696.8 L1436.0 699.1 L1440.0 701.4 L1444.0 703.7 L1448.0 705.9 L1452.0 708.1 L1456.0 710.3 L1460.0 712.5 L1464.0 714.6 L1468.0 716.8 L1472.0 718.9 L1476.0 721.0 L1480.0 723.1 L1484.0 725.1 L1488.0 727.2 L1492.0 729.2 L1496.0 731.2 L1500.0 733.1 L1504.0 735.0 L1508.0 736.9 L1512.0 738.8 L1516.0 740.6 L1520.0 742.4 L1524.0 744.3 L1528.0 746.1 L1532.0 747.9 L1536.0 749.7 L1540.0 751.6 L1544.0 753.4 L1548.0 755.3 L1552.0 757.2 L1556.0 759.1 L1560.0 761.0 L1564.0 762.9 L1568.0 764.7 L1572.0 766.6 L1576.0 768.4 L1580.0 770.2 L1584.0 771.9 L1588.0 773.7 L1592.0 775.3 L1596.0 777.0 L1600.0 778.6 L1604.0 780.2 L1608.0 781.7 L1612.0 783.3 L1616.0 784.8 L1620.0 786.3 L1624.0 787.7 L1628.0 789.2 L1632.0 790.6 L1636.0 792.0 L1640.0 793.4 L1644.0 794.8 L1648.0 796.2 L1652.0 797.6 L1656.0 799.0 L1660.0 800.4 L1664.0 801.7 L1668.0 803.1 L1672.0 804.5 L1676.0 805.9 L1680.0 807.2 L1684.0 808.6 L1688.0 809.9 L1692.0 811.3 L1696.0 812.6 L1700.0 813.9 L1704.0 815.2 L1708.0 816.5 L1712.0 817.7 L1716.0 819.0 L1720.0 820.2 L1724.0 821.4 L1728.0 822.7 L1732.0 823.9 L1736.0 825.1 L1740.0 826.4 L1744.0 827.6 L1748.0 828.9 L1752.0 830.2 L1756.0 831.5 L1760.0 832.8 L1764.0 834.2 L1768.0 835.6 L1772.0 836.9 L1776.0 838.3 L1780.0 839.7 L1784.0 841.1 L1788.0 842.5 L1792.0 843.9 L1796.0 845.3 L1800.0 846.6 L1804.0 848.0 L1808.0 849.4 L1812.0 850.7 L1816.0 852.1 L1820.0 853.4 L1824.0 854.7 L1828.0 856.0 L1832.0 857.2 L1836.0 858.5 L1840.0 859.7 L1844.0 860.8 L1848.0 862.0 L1852.0 863.1 L1856.0 864.1 L1860.0 865.1 L1864.0 866.1 L1868.0 867.1 L1872.0 868.1 L1876.0 869.0 L1880.0 869.9 L1884.0 870.8 L1888.0 871.7 L1892.0 872.6 L1896.0 873.4 L1900.0 874.3 L1904.0 875.2 L1908.0 876.0 L1912.0 876.9 L1916.0 877.7 L1920.0 878.6 L1924.0 879.5 L1928.0 880.3 L1932.0 881.2 L1936.0 882.0 L1940.0 882.9 L1944.0 883.7 L1948.0 884.5 L1952.0 885.4 L1956.0 886.2 L1960.0 887.0 L1964.0 887.9 L1968.0 888.7 L1972.0 889.5 L1976.0 890.3 L1980.0 891.1 L1984.0 891.9 L1988.0 892.7 L1992.0 893.5 L1996.0 894.2 L2000.0 895.0 L2004.0 895.8 L2008.0 896.5 L2012.0 897.3 L2016.0 898.0 L2020.0 898.8 L2024.0 899.5 L2028.0 900.2 L2032.0 900.9 L2036.0 901.6 L2040.0 902.3 L2044.0 902.9 L2048.0 903.6 L2052.0 904.2 L2056.0 904.9 L2060.0 905.5 L2064.0 906.1 L2068.0 906.7 L2072.0 907.3 L2076.0 907.9 L2080.0 908.4 L2084.0 908.9 L2088.0 909.5 L2092.0 910.0 L2096.0 910.5 L2100.0 910.9 L2104.0 911.4 L2108.0 911.8 L2112.0 912.2 L2116.0 912.6 L2120.0 913.0 L2124.0 913.4 L2128.0 913.7 L2132.0 914.1 L2136.0 914.4 L2140.0 914.7 L2144.0 915.0 L2148.0 915.3 L2152.0 915.6 L2156.0 915.8 L2160.0 916.1 L2164.0 916.3 L2168.0 916.6 L2172.0 916.8 L2176.0 917.0 L2180.0 917.2 L2184.0 917.4 L2188.0 917.5 L2192.0 917.7 L2196.0 917.9 L2200.0 918.0 L2204.0 918.2 L2208.0 918.3 L2212.0 918.4 L2216.0 918.5 L2220.0 918.7 L2224.0 918.8 L2228.0 918.9 L2232.0 919.0 L2236.0 919.1 L2240.0 919.2 L2244.0 919.2 L2248.0 919.3 L2252.0 919.4 L2256.0 919.5 L2260.0 919.5 L2264.0 919.6 L2268.0 919.6 L2272.0 919.7 L2276.0 919.8 L2280.0 919.8 L2284.0 919.8 L2288.0 919.9 L2292.0 919.9 L2296.0 920.0 L2300.0 920.0 L2304.0 920.1 L2308.0 920.1 L2312.0 920.1 L2316.0 920.2 L2320.0 920.2 L2324.0 920.2 L2328.0 920.3 L2332.0 920.3 L2336.0 920.4 L2340.0 920.4 L2344.0 920.4 L2348.0 920.4 L2352.0 920.5 L2356.0 920.5 L2360.0 920.5 L2364.0 920.6 L2368.0 920.6 L2372.0 920.6 L2376.0 920.6 L2380.0 920.7 L2384.0 920.7 L2388.0 920.7 L2392.0 920.8 L2396.0 920.8 L2400.0 920.8 L2404.0 920.8 L2408.0 920.9 L2412.0 920.9 L2416.0 920.9 L2420.0 920.9 L2424.0 921.0 L2428.0 921.0 L2432.0 921.0" stroke="#8cd0d0" stroke-width="5.5"/>
</g>
<g filter="url(#bl2)">
<rect x="1730" y="141" width="125" height="5" fill="#e8849e"/>
<rect x="1730" y="146" width="125" height="5" fill="#b5526e"/>
<rect x="1730" y="208.5" width="125" height="5" fill="#b2d2de"/>
<rect x="1730" y="213.5" width="125" height="5" fill="#456c8e"/>
<rect x="1730" y="273.5" width="125" height="5" fill="#fdf0c0"/>
<rect x="1730" y="278.5" width="125" height="5" fill="#cbbf8e"/>
<rect x="1730" y="341" width="125" height="5" fill="#b6fcaa"/>
<rect x="1730" y="346" width="125" height="5" fill="#82c87a"/>
<rect x="1730" y="411" width="125" height="5" fill="#b66abd"/>
<rect x="1730" y="416" width="125" height="5" fill="#f8a6f8"/>
<rect x="1730" y="471" width="125" height="20" fill="#cffafa"/>
<rect x="1730" y="476" width="125" height="10" fill="#a2dede"/>
</g>
<g filter="url(#bl2)">
<g stroke="#1a1a1a" fill="none">
<line x1="131.7" y1="31" x2="2434" y2="31" stroke-width="10"/>
<line x1="131.7" y1="926.3" x2="2434" y2="926.3" stroke-width="10"/>
<line x1="136.3" y1="26" x2="136.3" y2="931.3" stroke-width="9.2"/>
<line x1="2429.6" y1="26" x2="2429.6" y2="931.3" stroke-width="8.8"/>
</g>
<g stroke="#141414" stroke-width="6.5"><line x1="452.5" y1="928" x2="452.5" y2="950" /><line x1="848" y1="928" x2="848" y2="950" /><line x1="1242.5" y1="928" x2="1242.5" y2="950" /><line x1="1637.5" y1="928" x2="1637.5" y2="950" /><line x1="2033" y1="928" x2="2033" y2="950" /><line x1="2428.5" y1="928" x2="2428.5" y2="950" /><line x1="255" y1="928" x2="255" y2="940.5" /><line x1="650" y1="928" x2="650" y2="940.5" /><line x1="1045" y1="928" x2="1045" y2="940.5" /><line x1="1440" y1="928" x2="1440" y2="940.5" /><line x1="1835" y1="928" x2="1835" y2="940.5" /><line x1="2231" y1="928" x2="2231" y2="940.5" /></g>
<text transform="translate(453 1019.5) scale(0.88 1)" x="0" y="0" text-anchor="middle" class="tk" textLength="122.6" lengthAdjust="spacing">500</text><text transform="translate(848 1019.5) scale(0.88 1)" x="0" y="0" text-anchor="middle" class="tk" textLength="122.6" lengthAdjust="spacing">550</text><text transform="translate(1242 1019.5) scale(0.88 1)" x="0" y="0" text-anchor="middle" class="tk" textLength="122.6" lengthAdjust="spacing">600</text><text transform="translate(1637.5 1019.5) scale(0.88 1)" x="0" y="0" text-anchor="middle" class="tk" textLength="122.6" lengthAdjust="spacing">650</text><text transform="translate(2034 1019.5) scale(0.88 1)" x="0" y="0" text-anchor="middle" class="tk" textLength="122.6" lengthAdjust="spacing">700</text><text transform="translate(2429.5 1019.5) scale(0.88 1)" x="0" y="0" text-anchor="middle" class="tk" textLength="122.6" lengthAdjust="spacing">750</text>
<text x="1970.5" y="163.5" text-anchor="end" class="lg">0</text>
<text x="1991" y="159" class="lg2" textLength="88.5" lengthAdjust="spacingAndGlyphs">µM</text>
<text x="1970.5" y="227.5" text-anchor="end" class="lg">25</text>
<text x="1991" y="219.5" class="lg2" textLength="88.5" lengthAdjust="spacingAndGlyphs">µM</text>
<text x="1970.5" y="292.5" text-anchor="end" class="lg">50</text>
<text x="1991" y="284" class="lg2" textLength="88.5" lengthAdjust="spacingAndGlyphs">µM</text>
<text x="1970.5" y="368.5" text-anchor="end" class="lg">100</text>
<text x="1991" y="359" class="lg2" textLength="88.5" lengthAdjust="spacingAndGlyphs">µM</text>
<text x="1970.5" y="428.5" text-anchor="end" class="lg">150</text>
<text x="1991" y="423.5" class="lg2" textLength="88.5" lengthAdjust="spacingAndGlyphs">µM</text>
<text x="1970.5" y="502.5" text-anchor="end" class="lg">200</text>
<text x="1991" y="489" class="lg2" textLength="88.5" lengthAdjust="spacingAndGlyphs">µM</text>
<text class="yl" transform="translate(87.5 722) rotate(-90)" textLength="562" lengthAdjust="spacingAndGlyphs">Intensity (a.u.)</text>
</g>
<text class="xl" x="1041" y="1159.8" textLength="561.5" lengthAdjust="spacing">Wavelength(nm)</text>
</svg>
</body></html>
